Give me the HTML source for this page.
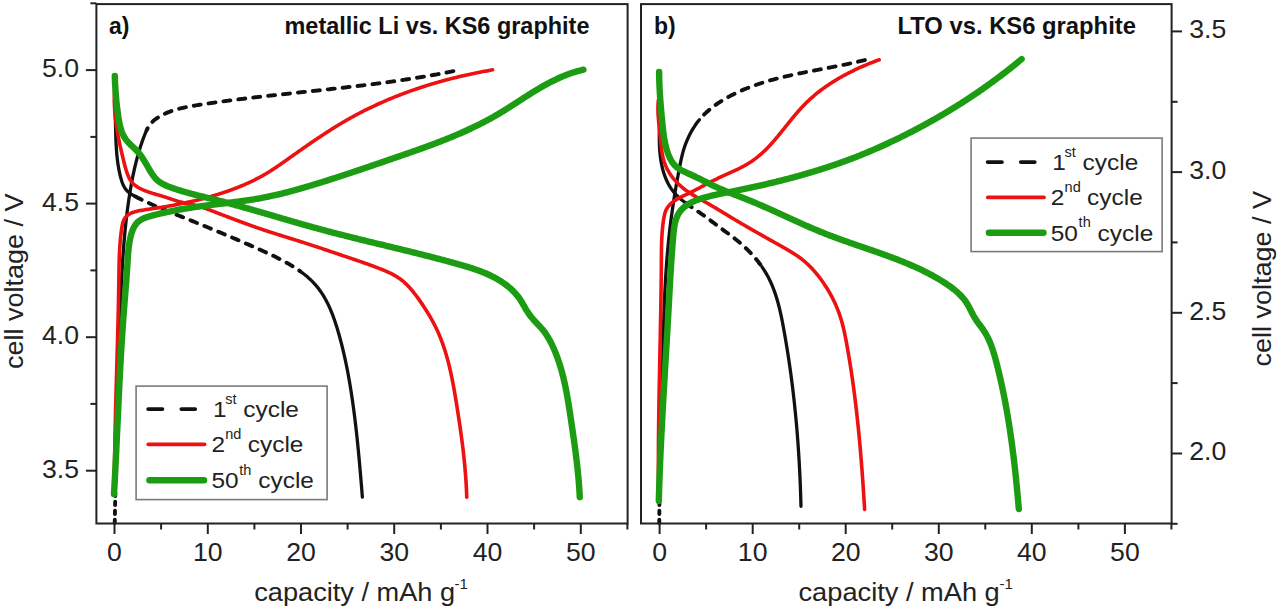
<!DOCTYPE html>
<html><head><meta charset="utf-8"><style>
html,body{margin:0;padding:0;background:#fff;width:1280px;height:607px;overflow:hidden;}
svg{display:block;font-family:"Liberation Sans",sans-serif;}
#w{width:1280px;height:607px;}
</style></head><body>
<div id="w"><svg width="1280" height="607" viewBox="0 0 1280 607">
<rect width="1280" height="607" fill="#fff"/>
<g>
<path d="M114.74,522.97 L114.76,521.77 L114.79,520.57 L114.81,519.37 L114.84,518.17 L114.86,516.97 L114.89,515.77 L114.91,514.57 L114.93,513.37 L114.96,512.17 L114.98,510.97 L115.00,509.77 L115.03,508.57 L115.05,507.37 L115.08,506.17 L115.10,504.97 L115.12,503.76 L115.15,502.56 L115.17,501.36 L115.20,500.16 L115.22,498.96 L115.24,497.76 L115.27,496.56 L115.29,495.36 L115.31,494.16 L115.34,492.95 L115.36,491.75 L115.39,490.55" fill="none" stroke="#111" stroke-width="3.9" stroke-linecap="round" stroke-linejoin="round" stroke-dasharray="3.2 5.8"/>
<path d="M115.39,490.55 L115.41,489.35 L115.43,488.15 L115.46,486.95 L115.48,485.75 L115.50,484.54 L115.53,483.34 L115.55,482.14 L115.58,480.94 L115.60,479.74 L115.62,478.53 L115.65,477.33 L115.67,476.13 L115.70,474.93 L115.72,473.73 L115.75,472.52 L115.77,471.32 L115.79,470.12 L115.82,468.92 L115.84,467.72 L115.87,466.51 L115.89,465.31 L115.92,464.11 L115.94,462.91 L115.97,461.70 L115.99,460.50 L116.02,459.30 L116.04,458.10 L116.07,456.89 L116.09,455.69 L116.12,454.49 L116.14,453.28 L116.17,452.08 L116.19,450.88 L116.22,449.68 L116.24,448.47 L116.27,447.27 L116.29,446.07 L116.32,444.87 L116.34,443.66 L116.37,442.46 L116.40,441.26 L116.42,440.05 L116.45,438.85 L116.48,437.65 L116.50,436.44 L116.53,435.24 L116.55,434.04 L116.58,432.84 L116.61,431.63 L116.64,430.43 L116.66,429.23 L116.69,428.02 L116.72,426.82 L116.74,425.62 L116.77,424.41 L116.80,423.21 L116.83,422.01 L116.86,420.80 L116.88,419.60 L116.91,418.40 L116.94,417.19 L116.97,415.99 L117.00,414.79 L117.03,413.58 L117.05,412.38 L117.08,411.18 L117.11,409.97 L117.14,408.77 L117.17,407.57 L117.20,406.37 L117.23,405.16 L117.26,403.96 L117.29,402.76 L117.32,401.55 L117.35,400.35 L117.38,399.15 L117.41,397.94 L117.44,396.74 L117.47,395.54 L117.51,394.33 L117.54,393.13 L117.57,391.93 L117.60,390.72 L117.63,389.52 L117.67,388.32 L117.70,387.11 L117.73,385.91 L117.76,384.71 L117.80,383.50 L117.83,382.30 L117.86,381.10 L117.90,379.89 L117.93,378.69 L117.96,377.49 L118.00,376.29 L118.03,375.08 L118.07,373.88 L118.10,372.68 L118.14,371.47 L118.17,370.27 L118.21,369.07 L118.24,367.86 L118.28,366.66 L118.31,365.46 L118.35,364.26 L118.39,363.05 L118.42,361.85 L118.46,360.65 L118.50,359.44 L118.53,358.24 L118.57,357.04 L118.61,355.84 L118.65,354.63 L118.69,353.43 L118.72,352.23 L118.76,351.03 L118.80,349.82 L118.84,348.62 L118.88,347.42 L118.92,346.22 L118.96,345.01 L119.00,343.81 L119.04,342.61 L119.08,341.41 L119.12,340.20 L119.17,339.00 L119.21,337.80 L119.25,336.60 L119.29,335.40 L119.33,334.19 L119.38,332.99 L119.42,331.79 L119.46,330.59 L119.51,329.39 L119.55,328.18 L119.59,326.98 L119.64,325.78 L119.68,324.58 L119.73,323.38 L119.77,322.18 L119.82,320.97 L119.87,319.77 L119.91,318.57 L119.96,317.37 L120.00,316.17 L120.05,314.97 L120.10,313.77 L120.15,312.56 L120.20,311.36 L120.24,310.16 L120.29,308.96 L120.34,307.76 L120.39,306.56 L120.44,305.36 L120.49,304.16 L120.54,302.96 L120.59,301.76 L120.64,300.56 L120.69,299.36 L120.74,298.16 L120.80,296.95 L120.85,295.75 L120.90,294.55 L120.96,293.35 L121.01,292.15 L121.06,290.95 L121.12,289.75 L121.17,288.55 L121.23,287.35 L121.29,286.15 L121.34,284.95 L121.40,283.75 L121.46,282.56 L121.52,281.36 L121.58,280.16 L121.64,278.96 L121.70,277.76 L121.76,276.56 L121.83,275.36 L121.89,274.16 L121.96,272.96 L122.02,271.76 L122.09,270.56 L122.16,269.37 L122.23,268.17 L122.30,266.97 L122.37,265.77 L122.44,264.57 L122.52,263.37 L122.59,262.18 L122.67,260.98 L122.74,259.78 L122.82,258.58 L122.90,257.38 L122.98,256.19 L123.06,254.99 L123.15,253.79 L123.23,252.60 L123.32,251.40 L123.41,250.20 L123.50,249.00 L123.59,247.81 L123.68,246.61 L123.77,245.41 L123.87,244.22 L123.97,243.02 L124.07,241.83 L124.17,240.63 L124.27,239.43 L124.37,238.24 L124.48,237.04 L124.59,235.85 L124.70,234.65 L124.81,233.46 L124.92,232.26 L125.03,231.07 L125.15,229.87 L125.27,228.68 L125.39,227.48 L125.51,226.29 L125.64,225.09 L125.76,223.90 L125.89,222.70 L126.02,221.51 L126.16,220.32 L126.29,219.12 L126.43,217.93 L126.57,216.73 L126.71,215.54 L126.85,214.35 L127.00,213.16 L127.15,211.96 L127.30,210.77 L127.45,209.58 L127.61,208.38 L127.77,207.19 L127.93,206.00 L128.09,204.81 L128.26,203.62 L128.43,202.43 L128.60,201.23 L128.77,200.04 L128.95,198.85 L129.12,197.66 L129.31,196.47 L129.49,195.28 L129.68,194.09 L129.87,192.90 L130.06,191.71 L130.25,190.52 L130.45,189.33 L130.65,188.14 L130.86,186.95 L131.07,185.76 L131.28,184.57 L131.49,183.39 L131.71,182.20 L131.93,181.02 L132.16,179.83 L132.39,178.65 L132.62,177.46 L132.86,176.28 L133.10,175.10 L133.35,173.92 L133.60,172.74 L133.85,171.56 L134.11,170.38 L134.37,169.20 L134.64,168.03 L134.91,166.85 L135.19,165.68 L135.47,164.51 L135.76,163.34 L136.05,162.17 L136.35,161.00 L136.65,159.83 L136.96,158.67 L137.27,157.50 L137.59,156.34 L137.91,155.18 L138.24,154.02 L138.57,152.87 L138.91,151.71 L139.26,150.56 L139.61,149.41 L139.97,148.26 L140.33,147.11 L140.70,145.96 L141.08,144.82 L141.46,143.68 L141.85,142.54 L142.25,141.40 L142.65,140.27 L143.06,139.13 L143.47,138.00 L143.90,136.88 L144.33,135.75 L144.76,134.63 L145.21,133.51 L145.67,132.40 L146.15,131.31 L146.65,130.23" fill="none" stroke="#111" stroke-width="3.3" stroke-linecap="round" stroke-linejoin="round"/>
<path d="M146.65,130.23 L147.18,129.16 L147.73,128.12 L148.32,127.09 L148.93,126.10 L149.59,125.13 L150.28,124.19 L151.02,123.28 L151.80,122.41 L152.63,121.58 L153.51,120.78 L154.42,120.02 L155.37,119.29 L156.34,118.59 L157.33,117.91 L158.34,117.26 L159.37,116.64 L160.40,116.04 L161.45,115.46 L162.50,114.90 L163.57,114.36 L164.64,113.85 L165.72,113.35 L166.81,112.87 L167.91,112.41 L169.02,111.97 L170.14,111.55 L171.26,111.14 L172.39,110.75 L173.53,110.37 L174.67,110.01 L175.82,109.67 L176.98,109.33 L178.14,109.02 L179.31,108.71 L180.48,108.41 L181.66,108.13 L182.84,107.85 L184.02,107.59 L185.21,107.34 L186.40,107.09 L187.59,106.85 L188.79,106.62 L189.99,106.40 L191.19,106.18 L192.39,105.97 L193.59,105.77 L194.79,105.57 L196.00,105.37 L197.20,105.18 L198.41,104.98 L199.61,104.80 L200.82,104.61 L202.02,104.42 L203.22,104.24 L204.42,104.05 L205.62,103.87 L206.82,103.69 L208.02,103.51 L209.22,103.34 L210.42,103.16 L211.62,102.98 L212.81,102.81 L214.01,102.64 L215.21,102.47 L216.40,102.30 L217.60,102.13 L218.79,101.96 L219.99,101.80 L221.18,101.63 L222.38,101.47 L223.57,101.31 L224.76,101.15 L225.95,100.99 L227.14,100.83 L228.34,100.67 L229.53,100.51 L230.72,100.36 L231.91,100.20 L233.10,100.05 L234.29,99.89 L235.48,99.74 L236.67,99.59 L237.86,99.44 L239.05,99.29 L240.24,99.14 L241.43,98.99 L242.62,98.85 L243.80,98.70 L244.99,98.56 L246.18,98.41 L247.37,98.27 L248.56,98.13 L249.75,97.98 L250.93,97.84 L252.12,97.70 L253.31,97.56 L254.50,97.42 L255.69,97.28 L256.88,97.15 L258.06,97.01 L259.25,96.87 L260.44,96.73 L261.63,96.60 L262.82,96.46 L264.01,96.33 L265.20,96.19 L266.39,96.06 L267.57,95.93 L268.76,95.79 L269.95,95.66 L271.14,95.53 L272.34,95.39 L273.53,95.26 L274.72,95.13 L275.91,95.00 L277.10,94.87 L278.29,94.74 L279.48,94.61 L280.67,94.48 L281.87,94.35 L283.06,94.22 L284.25,94.09 L285.44,93.96 L286.64,93.83 L287.83,93.70 L289.02,93.57 L290.22,93.44 L291.41,93.32 L292.60,93.19 L293.80,93.06 L294.99,92.93 L296.19,92.80 L297.38,92.68 L298.58,92.55 L299.77,92.42 L300.96,92.29 L302.16,92.16 L303.35,92.04 L304.55,91.91 L305.75,91.78 L306.94,91.65 L308.14,91.52 L309.33,91.40 L310.53,91.27 L311.72,91.14 L312.92,91.01 L314.12,90.88 L315.31,90.75 L316.51,90.62 L317.70,90.49 L318.90,90.37 L320.10,90.24 L321.29,90.11 L322.49,89.98 L323.69,89.85 L324.88,89.72 L326.08,89.59 L327.28,89.45 L328.47,89.32 L329.67,89.19 L330.86,89.06 L332.06,88.93 L333.26,88.79 L334.46,88.66 L335.65,88.53 L336.85,88.39 L338.05,88.26 L339.24,88.13 L340.44,87.99 L341.64,87.85 L342.83,87.72 L344.03,87.58 L345.23,87.45 L346.42,87.31 L347.62,87.17 L348.81,87.03 L350.01,86.89 L351.21,86.75 L352.40,86.61 L353.60,86.47 L354.80,86.33 L355.99,86.19 L357.19,86.05 L358.38,85.90 L359.58,85.76 L360.78,85.61 L361.97,85.47 L363.17,85.32 L364.36,85.18 L365.56,85.03 L366.75,84.88 L367.95,84.73 L369.14,84.58 L370.34,84.43 L371.53,84.28 L372.73,84.13 L373.92,83.97 L375.12,83.82 L376.31,83.67 L377.50,83.51 L378.70,83.35 L379.89,83.20 L381.09,83.04 L382.28,82.88 L383.47,82.72 L384.66,82.56 L385.86,82.40 L387.05,82.23 L388.24,82.07 L389.44,81.91 L390.63,81.74 L391.82,81.57 L393.01,81.41 L394.20,81.24 L395.39,81.07 L396.58,80.89 L397.78,80.72 L398.97,80.55 L400.16,80.37 L401.35,80.20 L402.54,80.02 L403.73,79.84 L404.91,79.66 L406.10,79.48 L407.29,79.30 L408.48,79.12 L409.67,78.94 L410.86,78.75 L412.04,78.56 L413.23,78.38 L414.42,78.19 L415.61,78.00 L416.79,77.80 L417.98,77.61 L419.16,77.42 L420.35,77.22 L421.54,77.02 L422.72,76.83 L423.91,76.63 L425.09,76.42 L426.27,76.22 L427.46,76.02 L428.64,75.81 L429.82,75.60 L431.01,75.40 L432.19,75.19 L433.37,74.97 L434.55,74.76 L435.73,74.55 L436.91,74.33 L438.09,74.11 L439.27,73.89 L440.45,73.67 L441.63,73.45 L442.81,73.22 L443.99,73.00 L445.17,72.77 L446.34,72.54 L447.52,72.31 L448.70,72.08 L449.88,71.84 L451.05,71.61 L452.23,71.37 L453.40,71.13" fill="none" stroke="#111" stroke-width="3.9" stroke-linecap="round" stroke-linejoin="round" stroke-dasharray="7 8" stroke-dashoffset="4.75"/>
<path d="M114.39,100.11 L114.49,101.27 L114.58,102.44 L114.67,103.61 L114.75,104.78 L114.82,105.95 L114.89,107.13 L114.95,108.31 L115.01,109.49 L115.07,110.68 L115.12,111.87 L115.17,113.06 L115.21,114.26 L115.25,115.45 L115.29,116.65 L115.33,117.86 L115.36,119.06 L115.39,120.26 L115.42,121.47 L115.45,122.68 L115.48,123.89 L115.51,125.10 L115.54,126.31 L115.57,127.53 L115.60,128.74 L115.63,129.96 L115.66,131.18 L115.69,132.39 L115.72,133.61 L115.76,134.83 L115.79,136.05 L115.83,137.27 L115.88,138.49 L115.92,139.71 L115.97,140.93 L116.02,142.15 L116.08,143.36 L116.14,144.58 L116.21,145.80 L116.28,147.02 L116.35,148.23 L116.43,149.45 L116.52,150.66 L116.62,151.87 L116.71,153.09 L116.82,154.29 L116.93,155.50 L117.06,156.71 L117.18,157.91 L117.32,159.12 L117.47,160.32 L117.62,161.52 L117.78,162.71 L117.95,163.91 L118.13,165.10 L118.32,166.29 L118.52,167.47 L118.74,168.66 L118.96,169.84 L119.19,171.01 L119.43,172.19 L119.69,173.36 L119.96,174.52 L120.24,175.69 L120.53,176.85 L120.83,178.00 L121.15,179.15 L121.49,180.29 L121.85,181.42 L122.24,182.54 L122.65,183.63 L123.10,184.70 L123.59,185.75 L124.12,186.77 L124.69,187.75 L125.31,188.70 L125.98,189.61 L126.70,190.48 L127.49,191.30 L128.34,192.08 L129.24,192.81 L130.20,193.50 L131.19,194.15 L132.22,194.78 L133.28,195.38 L134.35,195.97 L135.44,196.54" fill="none" stroke="#111" stroke-width="3.3" stroke-linecap="round" stroke-linejoin="round"/>
<path d="M135.44,196.54 L136.53,197.10 L137.62,197.66 L138.71,198.21 L139.80,198.76 L140.90,199.30 L141.99,199.83 L143.09,200.36 L144.19,200.89 L145.29,201.41 L146.39,201.92 L147.49,202.43 L148.59,202.94 L149.69,203.44 L150.80,203.94 L151.90,204.43 L153.01,204.92 L154.11,205.41 L155.22,205.89 L156.33,206.37 L157.43,206.84 L158.54,207.32 L159.65,207.79 L160.76,208.26 L161.87,208.72 L162.99,209.19 L164.10,209.65 L165.21,210.11 L166.32,210.56 L167.44,211.02 L168.55,211.47 L169.66,211.92 L170.78,212.38 L171.89,212.83 L173.01,213.28 L174.12,213.72 L175.24,214.17 L176.36,214.62 L177.47,215.07 L178.59,215.52 L179.70,215.96 L180.82,216.41 L181.94,216.86 L183.05,217.31 L184.17,217.76 L185.29,218.21 L186.40,218.66 L187.52,219.11 L188.64,219.56 L189.75,220.01 L190.87,220.46 L191.98,220.91 L193.10,221.36 L194.22,221.82 L195.33,222.27 L196.45,222.72 L197.57,223.18 L198.68,223.63 L199.80,224.08 L200.91,224.54 L202.03,224.99 L203.15,225.45 L204.26,225.91 L205.38,226.36 L206.49,226.82 L207.61,227.28 L208.72,227.74 L209.84,228.20 L210.95,228.66 L212.06,229.12 L213.18,229.58 L214.29,230.04 L215.40,230.50 L216.52,230.96 L217.63,231.42 L218.74,231.89 L219.86,232.35 L220.97,232.82 L222.08,233.28 L223.19,233.75 L224.30,234.21 L225.41,234.68 L226.52,235.15 L227.63,235.62 L228.74,236.08 L229.85,236.55 L230.96,237.02 L232.07,237.50 L233.18,237.97 L234.29,238.44 L235.39,238.91 L236.50,239.39 L237.61,239.86 L238.71,240.34 L239.82,240.81 L240.92,241.29 L242.03,241.76 L243.13,242.24 L244.24,242.72 L245.34,243.20 L246.44,243.68 L247.54,244.16 L248.64,244.64 L249.75,245.13 L250.85,245.61 L251.95,246.10 L253.05,246.58 L254.14,247.07 L255.24,247.55 L256.34,248.04 L257.44,248.53 L258.53,249.02 L259.63,249.51 L260.72,250.00 L261.82,250.49 L262.91,250.99 L264.00,251.48 L265.09,251.98 L266.18,252.48 L267.27,252.98 L268.36,253.48 L269.45,253.99 L270.53,254.50 L271.62,255.01 L272.70,255.53 L273.78,256.05 L274.86,256.58 L275.94,257.11 L277.01,257.64 L278.09,258.18 L279.16,258.73 L280.23,259.28 L281.30,259.84 L282.36,260.40 L283.43,260.97 L284.49,261.54 L285.55,262.13 L286.60,262.72 L287.66,263.31 L288.71,263.92 L289.75,264.53 L290.80,265.15 L291.84,265.78 L292.88,266.42 L293.91,267.06 L294.94,267.72 L295.96,268.38 L296.98,269.05 L297.99,269.74 L299.00,270.43 L299.99,271.13" fill="none" stroke="#111" stroke-width="3.9" stroke-linecap="round" stroke-linejoin="round" stroke-dasharray="7 8"/>
<path d="M299.99,271.13 L300.98,271.84 L301.96,272.56 L302.93,273.29 L303.89,274.03 L304.85,274.78 L305.79,275.54 L306.72,276.32 L307.64,277.10 L308.54,277.90 L309.44,278.70 L310.32,279.52 L311.19,280.35 L312.04,281.19 L312.88,282.04 L313.70,282.90 L314.51,283.78 L315.30,284.67 L316.08,285.57 L316.84,286.48 L317.59,287.40 L318.32,288.33 L319.03,289.28 L319.74,290.24 L320.42,291.20 L321.10,292.18 L321.76,293.16 L322.41,294.16 L323.04,295.17 L323.66,296.18 L324.27,297.20 L324.86,298.23 L325.45,299.27 L326.02,300.32 L326.58,301.38 L327.13,302.44 L327.66,303.51 L328.19,304.59 L328.70,305.67 L329.21,306.77 L329.71,307.86 L330.19,308.97 L330.67,310.07 L331.13,311.19 L331.59,312.31 L332.04,313.43 L332.48,314.56 L332.91,315.70 L333.33,316.83 L333.75,317.98 L334.16,319.12 L334.56,320.27 L334.95,321.42 L335.34,322.58 L335.72,323.73 L336.10,324.89 L336.46,326.05 L336.83,327.22 L337.18,328.38 L337.54,329.55 L337.88,330.72 L338.22,331.88 L338.56,333.05 L338.90,334.22 L339.23,335.39 L339.55,336.56 L339.87,337.73 L340.19,338.90 L340.50,340.07 L340.81,341.24 L341.12,342.40 L341.42,343.57 L341.72,344.74 L342.02,345.91 L342.31,347.08 L342.60,348.25 L342.88,349.43 L343.16,350.60 L343.44,351.77 L343.71,352.94 L343.98,354.11 L344.25,355.28 L344.51,356.45 L344.78,357.63 L345.03,358.80 L345.29,359.97 L345.54,361.15 L345.79,362.32 L346.03,363.49 L346.28,364.67 L346.52,365.84 L346.75,367.02 L346.99,368.19 L347.22,369.37 L347.45,370.54 L347.67,371.72 L347.90,372.90 L348.12,374.07 L348.33,375.25 L348.55,376.43 L348.76,377.61 L348.97,378.79 L349.18,379.97 L349.39,381.15 L349.59,382.33 L349.79,383.51 L349.99,384.69 L350.18,385.88 L350.38,387.06 L350.57,388.24 L350.76,389.43 L350.95,390.61 L351.14,391.80 L351.32,392.98 L351.50,394.17 L351.68,395.36 L351.86,396.54 L352.04,397.73 L352.21,398.92 L352.39,400.11 L352.56,401.30 L352.73,402.49 L352.89,403.68 L353.06,404.88 L353.22,406.07 L353.39,407.26 L353.55,408.46 L353.71,409.65 L353.87,410.84 L354.02,412.04 L354.18,413.23 L354.33,414.43 L354.48,415.63 L354.63,416.82 L354.78,418.02 L354.93,419.22 L355.08,420.41 L355.22,421.61 L355.37,422.81 L355.51,424.01 L355.65,425.21 L355.79,426.41 L355.92,427.61 L356.06,428.81 L356.20,430.01 L356.33,431.21 L356.46,432.41 L356.60,433.61 L356.73,434.81 L356.86,436.01 L356.98,437.21 L357.11,438.41 L357.24,439.62 L357.36,440.82 L357.49,442.02 L357.61,443.22 L357.73,444.42 L357.85,445.62 L357.97,446.83 L358.09,448.03 L358.21,449.23 L358.32,450.43 L358.44,451.63 L358.56,452.84 L358.67,454.04 L358.78,455.24 L358.90,456.44 L359.01,457.64 L359.12,458.85 L359.23,460.05 L359.34,461.25 L359.45,462.45 L359.56,463.65 L359.66,464.85 L359.77,466.05 L359.88,467.26 L359.98,468.46 L360.09,469.66 L360.19,470.86 L360.29,472.06 L360.40,473.26 L360.50,474.45 L360.60,475.65 L360.70,476.85 L360.81,478.05 L360.91,479.25 L361.01,480.45 L361.11,481.64 L361.21,482.84 L361.31,484.04 L361.40,485.23 L361.50,486.43 L361.60,487.62 L361.70,488.82 L361.80,490.01 L361.89,491.21 L361.99,492.40 L362.09,493.59 L362.18,494.79 L362.28,495.98 L362.38,497.17" fill="none" stroke="#111" stroke-width="3.3" stroke-linecap="round" stroke-linejoin="round"/>
<path d="M114.44,492.03 L114.44,490.82 L114.44,489.61 L114.44,488.41 L114.44,487.20 L114.44,485.99 L114.44,484.79 L114.44,483.58 L114.44,482.37 L114.45,481.17 L114.45,479.96 L114.46,478.75 L114.46,477.55 L114.47,476.34 L114.48,475.14 L114.49,473.93 L114.49,472.72 L114.50,471.52 L114.51,470.31 L114.52,469.11 L114.53,467.90 L114.54,466.70 L114.56,465.49 L114.57,464.29 L114.58,463.08 L114.59,461.88 L114.61,460.67 L114.62,459.47 L114.64,458.26 L114.65,457.06 L114.67,455.86 L114.69,454.65 L114.70,453.45 L114.72,452.24 L114.74,451.04 L114.76,449.84 L114.78,448.63 L114.79,447.43 L114.81,446.23 L114.83,445.02 L114.86,443.82 L114.88,442.62 L114.90,441.41 L114.92,440.21 L114.94,439.01 L114.97,437.80 L114.99,436.60 L115.01,435.40 L115.04,434.19 L115.06,432.99 L115.09,431.79 L115.11,430.59 L115.14,429.38 L115.16,428.18 L115.19,426.98 L115.21,425.78 L115.24,424.57 L115.27,423.37 L115.30,422.17 L115.32,420.97 L115.35,419.76 L115.38,418.56 L115.41,417.36 L115.44,416.16 L115.47,414.96 L115.50,413.75 L115.53,412.55 L115.56,411.35 L115.59,410.15 L115.62,408.95 L115.65,407.74 L115.68,406.54 L115.71,405.34 L115.74,404.14 L115.77,402.94 L115.80,401.74 L115.84,400.53 L115.87,399.33 L115.90,398.13 L115.93,396.93 L115.97,395.73 L116.00,394.53 L116.03,393.33 L116.06,392.12 L116.10,390.92 L116.13,389.72 L116.16,388.52 L116.20,387.32 L116.23,386.12 L116.27,384.91 L116.30,383.71 L116.33,382.51 L116.37,381.31 L116.40,380.11 L116.44,378.91 L116.47,377.70 L116.50,376.50 L116.54,375.30 L116.57,374.10 L116.61,372.90 L116.64,371.70 L116.68,370.50 L116.71,369.29 L116.75,368.09 L116.78,366.89 L116.82,365.69 L116.85,364.49 L116.88,363.28 L116.92,362.08 L116.95,360.88 L116.99,359.68 L117.02,358.48 L117.06,357.28 L117.09,356.07 L117.13,354.87 L117.16,353.67 L117.19,352.47 L117.23,351.26 L117.26,350.06 L117.30,348.86 L117.33,347.66 L117.36,346.46 L117.40,345.25 L117.43,344.05 L117.46,342.85 L117.50,341.65 L117.53,340.44 L117.56,339.24 L117.59,338.04 L117.63,336.83 L117.66,335.63 L117.69,334.43 L117.72,333.23 L117.75,332.02 L117.79,330.82 L117.82,329.62 L117.85,328.41 L117.88,327.21 L117.91,326.01 L117.94,324.80 L117.97,323.60 L118.00,322.39 L118.03,321.19 L118.06,319.99 L118.09,318.78 L118.12,317.58 L118.15,316.37 L118.17,315.17 L118.20,313.97 L118.23,312.76 L118.26,311.56 L118.28,310.35 L118.31,309.15 L118.34,307.94 L118.36,306.74 L118.39,305.53 L118.41,304.33 L118.44,303.12 L118.46,301.92 L118.49,300.71 L118.51,299.51 L118.53,298.30 L118.56,297.09 L118.58,295.89 L118.60,294.68 L118.62,293.48 L118.65,292.27 L118.67,291.06 L118.69,289.86 L118.71,288.65 L118.73,287.44 L118.75,286.24 L118.76,285.03 L118.78,283.82 L118.80,282.61 L118.82,281.41 L118.83,280.20 L118.85,278.99 L118.87,277.78 L118.88,276.58 L118.90,275.37 L118.91,274.16 L118.93,272.95 L118.95,271.74 L118.97,270.54 L118.99,269.33 L119.01,268.12 L119.03,266.91 L119.05,265.71 L119.08,264.50 L119.11,263.29 L119.14,262.08 L119.17,260.88 L119.20,259.67 L119.24,258.47 L119.28,257.26 L119.33,256.05 L119.37,254.85 L119.43,253.65 L119.48,252.44 L119.54,251.24 L119.60,250.04 L119.67,248.83 L119.75,247.63 L119.82,246.43 L119.91,245.23 L119.99,244.03 L120.09,242.83 L120.19,241.63 L120.29,240.44 L120.40,239.24 L120.52,238.04 L120.65,236.85 L120.78,235.65 L120.92,234.46 L121.06,233.27 L121.21,232.08 L121.37,230.89 L121.54,229.70 L121.72,228.51 L121.90,227.32 L122.10,226.14 L122.31,224.97 L122.56,223.82 L122.85,222.69 L123.18,221.59 L123.57,220.53 L124.02,219.52 L124.55,218.55 L125.15,217.64 L125.85,216.80 L126.63,216.02 L127.49,215.30 L128.42,214.64 L129.42,214.04 L130.48,213.49 L131.58,212.98 L132.73,212.53 L133.91,212.12 L135.12,211.75 L136.34,211.41 L137.58,211.11 L138.83,210.84 L140.08,210.59 L141.33,210.37 L142.59,210.16 L143.84,209.96 L145.07,209.76 L146.30,209.58 L147.52,209.39 L148.74,209.21 L149.94,209.03 L151.14,208.85 L152.33,208.68 L153.52,208.50 L154.70,208.33 L155.88,208.15 L157.06,207.98 L158.23,207.80 L159.41,207.62 L160.58,207.43 L161.76,207.25 L162.93,207.06 L164.11,206.87 L165.29,206.67 L166.46,206.47 L167.64,206.27 L168.82,206.07 L169.99,205.86 L171.17,205.65 L172.35,205.44 L173.52,205.22 L174.70,205.00 L175.88,204.77 L177.05,204.55 L178.23,204.32 L179.40,204.08 L180.58,203.85 L181.76,203.61 L182.93,203.36 L184.11,203.12 L185.28,202.87 L186.46,202.61 L187.63,202.36 L188.80,202.10 L189.98,201.83 L191.15,201.56 L192.32,201.29 L193.49,201.02 L194.67,200.74 L195.84,200.45 L197.01,200.17 L198.18,199.88 L199.34,199.58 L200.51,199.29 L201.68,198.98 L202.85,198.68 L204.01,198.37 L205.18,198.06 L206.34,197.74 L207.50,197.42 L208.67,197.09 L209.83,196.77 L210.99,196.43 L212.15,196.10 L213.31,195.76 L214.46,195.41 L215.62,195.06 L216.77,194.71 L217.93,194.35 L219.08,193.99 L220.23,193.62 L221.38,193.25 L222.53,192.88 L223.68,192.50 L224.82,192.11 L225.97,191.73 L227.11,191.33 L228.25,190.94 L229.39,190.53 L230.53,190.13 L231.67,189.71 L232.80,189.30 L233.93,188.88 L235.06,188.45 L236.19,188.01 L237.31,187.58 L238.43,187.13 L239.55,186.68 L240.67,186.23 L241.78,185.77 L242.89,185.30 L244.00,184.83 L245.11,184.35 L246.21,183.87 L247.31,183.38 L248.41,182.88 L249.50,182.38 L250.59,181.87 L251.67,181.36 L252.76,180.83 L253.84,180.31 L254.91,179.77 L255.98,179.23 L257.05,178.68 L258.12,178.13 L259.18,177.57 L260.23,177.00 L261.28,176.42 L262.33,175.84 L263.37,175.25 L264.41,174.65 L265.45,174.05 L266.48,173.43 L267.50,172.81 L268.52,172.19 L269.54,171.55 L270.56,170.92 L271.57,170.27 L272.57,169.62 L273.58,168.97 L274.58,168.31 L275.58,167.64 L276.57,166.97 L277.57,166.30 L278.56,165.62 L279.55,164.94 L280.54,164.26 L281.52,163.57 L282.51,162.88 L283.49,162.19 L284.48,161.50 L285.46,160.81 L286.44,160.11 L287.42,159.42 L288.40,158.72 L289.38,158.02 L290.37,157.32 L291.35,156.63 L292.33,155.93 L293.31,155.23 L294.30,154.54 L295.28,153.84 L296.26,153.14 L297.25,152.45 L298.23,151.75 L299.22,151.06 L300.21,150.36 L301.19,149.67 L302.18,148.98 L303.17,148.29 L304.16,147.60 L305.15,146.91 L306.14,146.22 L307.13,145.53 L308.12,144.85 L309.11,144.16 L310.11,143.48 L311.10,142.79 L312.10,142.11 L313.10,141.43 L314.09,140.75 L315.09,140.08 L316.09,139.40 L317.09,138.73 L318.09,138.05 L319.09,137.38 L320.10,136.72 L321.10,136.05 L322.11,135.38 L323.12,134.72 L324.12,134.06 L325.13,133.40 L326.14,132.74 L327.16,132.09 L328.17,131.44 L329.19,130.79 L330.20,130.14 L331.22,129.50 L332.24,128.85 L333.26,128.21 L334.28,127.58 L335.30,126.94 L336.33,126.31 L337.36,125.68 L338.38,125.06 L339.41,124.43 L340.45,123.81 L341.48,123.20 L342.51,122.58 L343.55,121.97 L344.59,121.36 L345.63,120.76 L346.67,120.16 L347.71,119.56 L348.76,118.97 L349.81,118.38 L350.86,117.79 L351.91,117.21 L352.96,116.63 L354.01,116.05 L355.07,115.48 L356.13,114.91 L357.19,114.34 L358.25,113.78 L359.32,113.22 L360.38,112.67 L361.45,112.11 L362.52,111.57 L363.59,111.02 L364.66,110.48 L365.74,109.94 L366.82,109.41 L367.89,108.88 L368.97,108.35 L370.06,107.83 L371.14,107.31 L372.22,106.79 L373.31,106.28 L374.40,105.77 L375.49,105.26 L376.58,104.75 L377.67,104.25 L378.77,103.76 L379.86,103.26 L380.96,102.77 L382.06,102.29 L383.16,101.80 L384.26,101.32 L385.36,100.85 L386.47,100.37 L387.58,99.90 L388.68,99.44 L389.79,98.97 L390.90,98.51 L392.02,98.06 L393.13,97.60 L394.24,97.15 L395.36,96.70 L396.48,96.26 L397.60,95.82 L398.72,95.38 L399.84,94.95 L400.96,94.52 L402.09,94.09 L403.21,93.66 L404.34,93.24 L405.47,92.82 L406.59,92.41 L407.73,92.00 L408.86,91.59 L409.99,91.18 L411.12,90.78 L412.26,90.38 L413.39,89.98 L414.53,89.59 L415.67,89.20 L416.81,88.81 L417.95,88.43 L419.09,88.04 L420.24,87.67 L421.38,87.29 L422.53,86.92 L423.67,86.55 L424.82,86.18 L425.97,85.82 L427.12,85.46 L428.27,85.10 L429.42,84.75 L430.57,84.40 L431.72,84.05 L432.88,83.71 L434.03,83.37 L435.19,83.03 L436.34,82.69 L437.50,82.36 L438.66,82.03 L439.82,81.70 L440.98,81.37 L442.14,81.05 L443.30,80.73 L444.46,80.42 L445.63,80.11 L446.79,79.80 L447.95,79.49 L449.12,79.18 L450.29,78.88 L451.45,78.58 L452.62,78.29 L453.79,78.00 L454.96,77.70 L456.13,77.42 L457.30,77.13 L458.47,76.85 L459.64,76.57 L460.81,76.30 L461.98,76.02 L463.16,75.75 L464.33,75.48 L465.51,75.22 L466.68,74.96 L467.86,74.70 L469.03,74.44 L470.21,74.18 L471.39,73.93 L472.56,73.68 L473.74,73.44 L474.92,73.19 L476.10,72.95 L477.28,72.71 L478.46,72.48 L479.64,72.25 L480.82,72.01 L482.00,71.79 L483.18,71.56 L484.36,71.34 L485.54,71.12 L486.72,70.90 L487.91,70.69 L489.09,70.47 L490.27,70.26 L491.46,70.06 L492.64,69.85" fill="none" stroke="#ee1111" stroke-width="3.6" stroke-linecap="round" stroke-linejoin="round"/>
<path d="M114.70,89.91 L114.62,91.16 L114.56,92.39 L114.50,93.63 L114.46,94.86 L114.42,96.09 L114.40,97.32 L114.38,98.54 L114.38,99.76 L114.38,100.97 L114.40,102.19 L114.42,103.40 L114.46,104.61 L114.50,105.81 L114.55,107.02 L114.61,108.22 L114.68,109.42 L114.75,110.62 L114.84,111.81 L114.93,113.01 L115.03,114.20 L115.14,115.39 L115.26,116.58 L115.38,117.76 L115.51,118.95 L115.65,120.13 L115.79,121.32 L115.95,122.50 L116.11,123.68 L116.27,124.86 L116.44,126.04 L116.62,127.21 L116.80,128.39 L116.99,129.57 L117.19,130.74 L117.39,131.92 L117.60,133.09 L117.81,134.27 L118.03,135.44 L118.25,136.62 L118.48,137.79 L118.71,138.97 L118.95,140.14 L119.19,141.32 L119.43,142.49 L119.68,143.67 L119.93,144.85 L120.19,146.02 L120.45,147.20 L120.72,148.38 L120.98,149.56 L121.25,150.74 L121.53,151.93 L121.80,153.11 L122.08,154.29 L122.36,155.48 L122.65,156.67 L122.93,157.86 L123.22,159.05 L123.51,160.24 L123.81,161.44 L124.10,162.63 L124.40,163.83 L124.70,165.02 L125.01,166.22 L125.34,167.40 L125.67,168.58 L126.02,169.76 L126.38,170.92 L126.76,172.07 L127.15,173.21 L127.57,174.34 L128.02,175.45 L128.48,176.54 L128.98,177.62 L129.51,178.66 L130.07,179.68 L130.68,180.66 L131.34,181.59 L132.04,182.48 L132.81,183.32 L133.62,184.11 L134.47,184.86 L135.37,185.57 L136.30,186.24 L137.27,186.87 L138.26,187.47 L139.29,188.04 L140.34,188.59 L141.40,189.11 L142.48,189.61 L143.58,190.09 L144.69,190.54 L145.81,190.99 L146.95,191.41 L148.09,191.82 L149.24,192.22 L150.41,192.61 L151.57,192.98 L152.75,193.35 L153.92,193.71 L155.10,194.06 L156.29,194.41 L157.47,194.76 L158.65,195.10 L159.83,195.45 L161.01,195.79 L162.19,196.14 L163.36,196.49 L164.52,196.85 L165.68,197.22 L166.83,197.59 L167.97,197.97 L169.11,198.36 L170.24,198.75 L171.36,199.14 L172.49,199.52 L173.61,199.90 L174.74,200.28 L175.87,200.65 L177.00,201.01 L178.13,201.35 L179.27,201.68 L180.42,201.99 L181.58,202.29 L182.74,202.57 L183.91,202.84 L185.08,203.09 L186.26,203.34 L187.44,203.59 L188.62,203.83 L189.80,204.08 L190.99,204.33 L192.17,204.58 L193.35,204.84 L194.52,205.11 L195.69,205.40 L196.86,205.70 L198.02,206.02 L199.18,206.35 L200.33,206.70 L201.48,207.06 L202.62,207.44 L203.76,207.82 L204.90,208.22 L206.03,208.63 L207.16,209.04 L208.29,209.46 L209.42,209.88 L210.54,210.31 L211.67,210.74 L212.79,211.17 L213.92,211.61 L215.04,212.04 L216.17,212.47 L217.29,212.90 L218.42,213.34 L219.54,213.77 L220.67,214.20 L221.79,214.63 L222.92,215.07 L224.04,215.50 L225.17,215.93 L226.30,216.36 L227.42,216.79 L228.55,217.22 L229.67,217.65 L230.80,218.08 L231.93,218.50 L233.05,218.93 L234.18,219.35 L235.31,219.78 L236.44,220.20 L237.57,220.63 L238.70,221.05 L239.82,221.47 L240.95,221.89 L242.08,222.30 L243.21,222.72 L244.35,223.14 L245.48,223.55 L246.61,223.96 L247.74,224.37 L248.87,224.78 L250.01,225.19 L251.14,225.59 L252.28,226.00 L253.41,226.40 L254.55,226.80 L255.68,227.20 L256.82,227.59 L257.96,227.99 L259.10,228.38 L260.24,228.77 L261.38,229.15 L262.52,229.54 L263.66,229.92 L264.80,230.30 L265.95,230.68 L267.09,231.05 L268.23,231.43 L269.38,231.80 L270.52,232.17 L271.67,232.54 L272.82,232.91 L273.96,233.27 L275.11,233.64 L276.26,234.00 L277.41,234.36 L278.55,234.72 L279.70,235.08 L280.85,235.44 L282.00,235.80 L283.15,236.16 L284.30,236.52 L285.45,236.88 L286.60,237.24 L287.75,237.59 L288.90,237.95 L290.05,238.31 L291.20,238.67 L292.35,239.03 L293.50,239.39 L294.65,239.74 L295.80,240.11 L296.95,240.47 L298.10,240.83 L299.24,241.19 L300.39,241.56 L301.54,241.92 L302.69,242.29 L303.84,242.65 L304.98,243.02 L306.13,243.39 L307.28,243.76 L308.42,244.14 L309.57,244.51 L310.72,244.88 L311.86,245.26 L313.01,245.63 L314.15,246.01 L315.30,246.38 L316.44,246.76 L317.59,247.14 L318.73,247.52 L319.87,247.90 L321.02,248.28 L322.16,248.66 L323.30,249.04 L324.45,249.42 L325.59,249.81 L326.73,250.19 L327.87,250.57 L329.01,250.96 L330.16,251.34 L331.30,251.72 L332.44,252.11 L333.58,252.49 L334.72,252.88 L335.86,253.26 L337.00,253.65 L338.14,254.04 L339.28,254.42 L340.42,254.81 L341.56,255.19 L342.70,255.58 L343.84,255.96 L344.98,256.35 L346.12,256.74 L347.26,257.12 L348.40,257.51 L349.54,257.89 L350.68,258.28 L351.81,258.66 L352.95,259.04 L354.09,259.43 L355.23,259.82 L356.37,260.20 L357.50,260.59 L358.64,260.98 L359.78,261.37 L360.91,261.76 L362.05,262.15 L363.19,262.55 L364.32,262.95 L365.46,263.34 L366.59,263.75 L367.72,264.15 L368.86,264.56 L369.99,264.97 L371.12,265.38 L372.26,265.80 L373.39,266.22 L374.52,266.64 L375.65,267.07 L376.78,267.51 L377.91,267.94 L379.04,268.39 L380.17,268.83 L381.30,269.28 L382.42,269.74 L383.55,270.20 L384.68,270.67 L385.80,271.15 L386.91,271.63 L388.03,272.13 L389.13,272.64 L390.23,273.15 L391.32,273.69 L392.40,274.23 L393.47,274.79 L394.52,275.37 L395.57,275.97 L396.60,276.58 L397.61,277.22 L398.61,277.88 L399.59,278.55 L400.55,279.26 L401.49,279.98 L402.42,280.72 L403.33,281.48 L404.23,282.26 L405.11,283.06 L405.98,283.88 L406.83,284.71 L407.67,285.56 L408.50,286.42 L409.31,287.30 L410.12,288.19 L410.91,289.10 L411.69,290.01 L412.46,290.94 L413.22,291.88 L413.97,292.82 L414.72,293.78 L415.45,294.74 L416.18,295.71 L416.91,296.68 L417.62,297.66 L418.33,298.65 L419.04,299.64 L419.74,300.63 L420.43,301.63 L421.12,302.63 L421.81,303.63 L422.49,304.63 L423.16,305.64 L423.83,306.65 L424.50,307.66 L425.15,308.68 L425.81,309.70 L426.45,310.72 L427.09,311.75 L427.73,312.77 L428.35,313.81 L428.98,314.84 L429.59,315.88 L430.20,316.92 L430.80,317.97 L431.39,319.02 L431.98,320.07 L432.55,321.12 L433.12,322.18 L433.69,323.24 L434.24,324.31 L434.79,325.38 L435.33,326.45 L435.86,327.53 L436.38,328.61 L436.89,329.69 L437.39,330.78 L437.89,331.87 L438.37,332.96 L438.85,334.06 L439.32,335.16 L439.78,336.26 L440.23,337.37 L440.68,338.48 L441.11,339.60 L441.54,340.71 L441.96,341.83 L442.38,342.96 L442.78,344.08 L443.18,345.21 L443.57,346.35 L443.95,347.48 L444.33,348.62 L444.70,349.76 L445.07,350.90 L445.42,352.04 L445.77,353.19 L446.12,354.34 L446.45,355.49 L446.79,356.65 L447.11,357.81 L447.43,358.96 L447.75,360.12 L448.06,361.29 L448.36,362.45 L448.66,363.62 L448.95,364.79 L449.24,365.96 L449.52,367.13 L449.80,368.30 L450.07,369.48 L450.34,370.65 L450.60,371.83 L450.86,373.01 L451.12,374.19 L451.37,375.37 L451.62,376.56 L451.86,377.74 L452.10,378.93 L452.34,380.11 L452.57,381.30 L452.80,382.49 L453.03,383.68 L453.25,384.87 L453.48,386.06 L453.69,387.25 L453.91,388.44 L454.12,389.63 L454.33,390.82 L454.54,392.01 L454.75,393.21 L454.95,394.40 L455.15,395.59 L455.35,396.79 L455.55,397.98 L455.75,399.18 L455.95,400.37 L456.14,401.56 L456.33,402.75 L456.53,403.95 L456.72,405.14 L456.91,406.33 L457.10,407.52 L457.29,408.72 L457.48,409.91 L457.66,411.10 L457.85,412.29 L458.04,413.48 L458.22,414.67 L458.40,415.86 L458.59,417.05 L458.77,418.24 L458.95,419.43 L459.13,420.62 L459.30,421.80 L459.48,422.99 L459.66,424.18 L459.83,425.37 L460.00,426.56 L460.18,427.75 L460.35,428.94 L460.52,430.12 L460.68,431.31 L460.85,432.50 L461.01,433.69 L461.18,434.88 L461.34,436.07 L461.50,437.26 L461.66,438.45 L461.81,439.63 L461.97,440.82 L462.12,442.01 L462.27,443.20 L462.42,444.39 L462.57,445.58 L462.71,446.77 L462.86,447.96 L463.00,449.15 L463.14,450.35 L463.28,451.54 L463.41,452.73 L463.55,453.92 L463.68,455.11 L463.81,456.31 L463.94,457.50 L464.06,458.70 L464.19,459.89 L464.31,461.08 L464.43,462.28 L464.55,463.48 L464.66,464.67 L464.77,465.87 L464.88,467.07 L464.99,468.27 L465.09,469.46 L465.20,470.66 L465.30,471.86 L465.39,473.07 L465.49,474.27 L465.58,475.47 L465.67,476.67 L465.76,477.88 L465.84,479.08 L465.92,480.29 L466.00,481.49 L466.08,482.70 L466.15,483.91 L466.22,485.12 L466.29,486.33 L466.35,487.54 L466.41,488.75 L466.47,489.96 L466.53,491.17 L466.58,492.39 L466.63,493.60 L466.67,494.82 L466.72,496.04 L466.76,497.25" fill="none" stroke="#ee1111" stroke-width="3.6" stroke-linecap="round" stroke-linejoin="round"/>
<path d="M113.97,493.99 L114.04,492.79 L114.11,491.59 L114.18,490.39 L114.25,489.19 L114.32,487.99 L114.38,486.79 L114.45,485.59 L114.52,484.38 L114.59,483.18 L114.65,481.98 L114.72,480.78 L114.79,479.58 L114.85,478.38 L114.92,477.18 L114.98,475.98 L115.04,474.77 L115.11,473.57 L115.17,472.37 L115.23,471.17 L115.30,469.97 L115.36,468.77 L115.42,467.56 L115.48,466.36 L115.54,465.16 L115.60,463.96 L115.67,462.76 L115.73,461.55 L115.79,460.35 L115.85,459.15 L115.91,457.95 L115.96,456.74 L116.02,455.54 L116.08,454.34 L116.14,453.14 L116.20,451.94 L116.26,450.73 L116.32,449.53 L116.37,448.33 L116.43,447.13 L116.49,445.92 L116.55,444.72 L116.60,443.52 L116.66,442.31 L116.72,441.11 L116.77,439.91 L116.83,438.71 L116.89,437.50 L116.94,436.30 L117.00,435.10 L117.05,433.89 L117.11,432.69 L117.17,431.49 L117.22,430.29 L117.28,429.08 L117.33,427.88 L117.39,426.68 L117.45,425.47 L117.50,424.27 L117.56,423.07 L117.61,421.86 L117.67,420.66 L117.72,419.46 L117.78,418.26 L117.84,417.05 L117.89,415.85 L117.95,414.65 L118.00,413.44 L118.06,412.24 L118.12,411.04 L118.17,409.83 L118.23,408.63 L118.28,407.43 L118.34,406.22 L118.40,405.02 L118.45,403.82 L118.51,402.61 L118.57,401.41 L118.62,400.21 L118.68,399.01 L118.74,397.80 L118.80,396.60 L118.85,395.40 L118.91,394.19 L118.97,392.99 L119.03,391.79 L119.09,390.58 L119.15,389.38 L119.21,388.18 L119.26,386.98 L119.32,385.77 L119.38,384.57 L119.44,383.37 L119.50,382.16 L119.57,380.96 L119.63,379.76 L119.69,378.56 L119.75,377.35 L119.81,376.15 L119.87,374.95 L119.94,373.75 L120.00,372.54 L120.06,371.34 L120.13,370.14 L120.19,368.94 L120.25,367.73 L120.32,366.53 L120.38,365.33 L120.45,364.13 L120.52,362.93 L120.58,361.72 L120.65,360.52 L120.72,359.32 L120.78,358.12 L120.85,356.91 L120.92,355.71 L120.99,354.51 L121.06,353.31 L121.13,352.11 L121.20,350.91 L121.27,349.70 L121.34,348.50 L121.42,347.30 L121.49,346.10 L121.56,344.90 L121.64,343.70 L121.71,342.50 L121.79,341.29 L121.86,340.09 L121.94,338.89 L122.01,337.69 L122.09,336.49 L122.17,335.29 L122.25,334.09 L122.33,332.89 L122.41,331.69 L122.49,330.49 L122.57,329.29 L122.65,328.09 L122.73,326.89 L122.82,325.69 L122.90,324.49 L122.98,323.29 L123.07,322.09 L123.16,320.89 L123.24,319.69 L123.33,318.49 L123.42,317.29 L123.51,316.09 L123.60,314.89 L123.69,313.69 L123.78,312.49 L123.87,311.29 L123.96,310.09 L124.06,308.89 L124.15,307.69 L124.24,306.50 L124.34,305.30 L124.43,304.10 L124.53,302.90 L124.62,301.70 L124.72,300.50 L124.82,299.30 L124.91,298.10 L125.01,296.91 L125.10,295.71 L125.20,294.51 L125.29,293.31 L125.39,292.11 L125.48,290.91 L125.58,289.71 L125.67,288.51 L125.77,287.32 L125.86,286.12 L125.95,284.92 L126.05,283.72 L126.14,282.52 L126.23,281.32 L126.32,280.12 L126.41,278.92 L126.50,277.72 L126.59,276.52 L126.67,275.32 L126.76,274.12 L126.84,272.92 L126.93,271.72 L127.01,270.52 L127.09,269.32 L127.17,268.12 L127.25,266.92 L127.33,265.72 L127.41,264.52 L127.48,263.32 L127.56,262.12 L127.63,260.92 L127.70,259.71 L127.78,258.51 L127.86,257.31 L127.95,256.10 L128.03,254.90 L128.13,253.70 L128.23,252.49 L128.34,251.28 L128.45,250.08 L128.58,248.87 L128.71,247.66 L128.86,246.45 L129.02,245.24 L129.20,244.02 L129.38,242.81 L129.58,241.59 L129.80,240.37 L130.04,239.16 L130.29,237.94 L130.57,236.72 L130.86,235.51 L131.19,234.32 L131.53,233.14 L131.91,231.97 L132.32,230.83 L132.77,229.71 L133.25,228.62 L133.76,227.56 L134.32,226.54 L134.92,225.56 L135.56,224.62 L136.26,223.73 L136.99,222.88 L137.78,222.09 L138.63,221.36 L139.52,220.68 L140.46,220.06 L141.45,219.48 L142.48,218.95 L143.54,218.45 L144.63,218.00 L145.74,217.57 L146.88,217.18 L148.04,216.80 L149.21,216.45 L150.39,216.11 L151.58,215.78 L152.76,215.46 L153.95,215.15 L155.14,214.84 L156.32,214.53 L157.51,214.24 L158.69,213.94 L159.88,213.66 L161.07,213.37 L162.25,213.10 L163.43,212.82 L164.62,212.56 L165.80,212.29 L166.99,212.04 L168.17,211.78 L169.36,211.53 L170.54,211.29 L171.73,211.05 L172.91,210.81 L174.09,210.58 L175.28,210.36 L176.46,210.13 L177.65,209.91 L178.83,209.70 L180.01,209.48 L181.20,209.28 L182.38,209.07 L183.57,208.87 L184.75,208.67 L185.94,208.48 L187.12,208.28 L188.30,208.10 L189.49,207.91 L190.67,207.73 L191.86,207.55 L193.05,207.37 L194.23,207.19 L195.42,207.02 L196.60,206.85 L197.79,206.68 L198.98,206.52 L200.16,206.35 L201.35,206.19 L202.54,206.03 L203.73,205.87 L204.91,205.72 L206.10,205.56 L207.29,205.41 L208.48,205.26 L209.67,205.11 L210.86,204.96 L212.05,204.81 L213.24,204.66 L214.43,204.52 L215.62,204.37 L216.82,204.23 L218.01,204.09 L219.20,203.94 L220.39,203.80 L221.59,203.66 L222.78,203.51 L223.97,203.37 L225.17,203.23 L226.36,203.08 L227.55,202.94 L228.75,202.79 L229.94,202.65 L231.14,202.50 L232.33,202.35 L233.52,202.20 L234.72,202.05 L235.91,201.90 L237.10,201.75 L238.30,201.59 L239.49,201.44 L240.68,201.28 L241.88,201.12 L243.07,200.95 L244.26,200.79 L245.45,200.62 L246.64,200.44 L247.83,200.27 L249.02,200.09 L250.21,199.91 L251.40,199.73 L252.59,199.54 L253.78,199.35 L254.97,199.16 L256.15,198.96 L257.34,198.75 L258.52,198.55 L259.71,198.34 L260.89,198.12 L262.08,197.90 L263.26,197.68 L264.44,197.45 L265.62,197.22 L266.80,196.98 L267.98,196.74 L269.16,196.49 L270.33,196.24 L271.51,195.98 L272.69,195.72 L273.86,195.46 L275.04,195.19 L276.21,194.92 L277.38,194.65 L278.55,194.37 L279.72,194.09 L280.89,193.80 L282.06,193.52 L283.23,193.22 L284.40,192.93 L285.57,192.63 L286.74,192.33 L287.90,192.03 L289.07,191.72 L290.23,191.41 L291.40,191.10 L292.56,190.78 L293.72,190.46 L294.88,190.14 L296.04,189.82 L297.21,189.50 L298.37,189.17 L299.53,188.84 L300.68,188.51 L301.84,188.18 L303.00,187.84 L304.16,187.51 L305.31,187.17 L306.47,186.83 L307.62,186.49 L308.78,186.14 L309.93,185.80 L311.09,185.45 L312.24,185.11 L313.39,184.76 L314.54,184.41 L315.70,184.06 L316.85,183.71 L318.00,183.35 L319.15,183.00 L320.30,182.64 L321.45,182.29 L322.59,181.93 L323.74,181.57 L324.89,181.21 L326.04,180.85 L327.18,180.49 L328.33,180.13 L329.48,179.76 L330.62,179.40 L331.77,179.03 L332.91,178.66 L334.06,178.30 L335.20,177.93 L336.34,177.56 L337.49,177.19 L338.63,176.82 L339.77,176.44 L340.92,176.07 L342.06,175.70 L343.20,175.32 L344.34,174.95 L345.48,174.57 L346.63,174.19 L347.77,173.82 L348.91,173.44 L350.05,173.06 L351.19,172.68 L352.33,172.30 L353.47,171.92 L354.61,171.54 L355.75,171.16 L356.89,170.77 L358.03,170.39 L359.17,170.01 L360.31,169.62 L361.44,169.24 L362.58,168.85 L363.72,168.47 L364.86,168.08 L366.00,167.69 L367.14,167.31 L368.28,166.92 L369.41,166.53 L370.55,166.14 L371.69,165.75 L372.83,165.37 L373.97,164.98 L375.11,164.59 L376.24,164.20 L377.38,163.81 L378.52,163.42 L379.66,163.03 L380.80,162.63 L381.94,162.24 L383.08,161.85 L384.21,161.46 L385.35,161.07 L386.49,160.68 L387.63,160.29 L388.77,159.90 L389.91,159.50 L391.05,159.11 L392.19,158.72 L393.33,158.33 L394.47,157.94 L395.61,157.54 L396.75,157.15 L397.89,156.76 L399.03,156.37 L400.17,155.97 L401.31,155.58 L402.45,155.19 L403.59,154.79 L404.73,154.40 L405.87,154.00 L407.01,153.61 L408.15,153.21 L409.29,152.81 L410.43,152.42 L411.56,152.02 L412.70,151.62 L413.84,151.22 L414.98,150.82 L416.12,150.41 L417.25,150.01 L418.39,149.61 L419.53,149.20 L420.66,148.79 L421.80,148.39 L422.93,147.98 L424.07,147.57 L425.20,147.15 L426.33,146.74 L427.47,146.33 L428.60,145.91 L429.73,145.49 L430.86,145.07 L431.99,144.65 L433.12,144.23 L434.25,143.81 L435.37,143.38 L436.50,142.95 L437.63,142.52 L438.75,142.09 L439.88,141.65 L441.00,141.22 L442.12,140.78 L443.24,140.34 L444.36,139.90 L445.48,139.45 L446.60,139.01 L447.72,138.56 L448.83,138.10 L449.95,137.65 L451.06,137.19 L452.17,136.74 L453.28,136.27 L454.39,135.81 L455.50,135.34 L456.61,134.87 L457.71,134.40 L458.82,133.92 L459.92,133.45 L461.02,132.97 L462.12,132.48 L463.22,131.99 L464.32,131.50 L465.42,131.01 L466.51,130.51 L467.60,130.01 L468.69,129.51 L469.78,129.01 L470.87,128.50 L471.96,127.98 L473.04,127.47 L474.12,126.95 L475.21,126.42 L476.28,125.90 L477.36,125.37 L478.44,124.83 L479.51,124.29 L480.58,123.75 L481.65,123.21 L482.72,122.66 L483.79,122.10 L484.85,121.54 L485.91,120.98 L486.97,120.42 L488.03,119.85 L489.09,119.27 L490.14,118.70 L491.19,118.11 L492.24,117.53 L493.29,116.94 L494.34,116.34 L495.38,115.74 L496.42,115.14 L497.46,114.53 L498.49,113.91 L499.53,113.30 L500.56,112.67 L501.59,112.05 L502.62,111.42 L503.65,110.79 L504.67,110.16 L505.70,109.52 L506.72,108.88 L507.74,108.24 L508.76,107.59 L509.78,106.95 L510.80,106.30 L511.82,105.65 L512.83,105.00 L513.85,104.35 L514.87,103.69 L515.88,103.04 L516.90,102.39 L517.91,101.73 L518.93,101.08 L519.94,100.42 L520.95,99.77 L521.97,99.12 L522.99,98.46 L524.00,97.81 L525.02,97.16 L526.03,96.51 L527.05,95.87 L528.07,95.22 L529.09,94.58 L530.11,93.94 L531.13,93.30 L532.15,92.66 L533.18,92.03 L534.20,91.40 L535.23,90.77 L536.26,90.15 L537.29,89.53 L538.32,88.92 L539.36,88.31 L540.39,87.70 L541.43,87.10 L542.47,86.50 L543.52,85.91 L544.56,85.32 L545.61,84.74 L546.66,84.16 L547.71,83.59 L548.77,83.03 L549.83,82.47 L550.89,81.92 L551.96,81.37 L553.03,80.84 L554.10,80.31 L555.17,79.78 L556.25,79.27 L557.34,78.76 L558.42,78.26 L559.51,77.77 L560.61,77.28 L561.71,76.81 L562.81,76.34 L563.92,75.88 L565.03,75.44 L566.15,75.00 L567.27,74.57 L568.39,74.15 L569.52,73.74 L570.66,73.34 L571.80,72.95 L572.94,72.58 L574.09,72.21 L575.25,71.85 L576.41,71.51 L577.58,71.18 L578.75,70.85 L579.93,70.55 L581.11,70.25 L582.30,69.96 L583.50,69.69" fill="none" stroke="#1c9c12" stroke-width="6.4" stroke-linecap="round" stroke-linejoin="round"/>
<path d="M114.78,75.99 L114.82,77.21 L114.87,78.43 L114.92,79.65 L114.97,80.86 L115.02,82.07 L115.08,83.28 L115.14,84.48 L115.21,85.68 L115.28,86.88 L115.35,88.07 L115.43,89.27 L115.51,90.46 L115.59,91.65 L115.68,92.84 L115.77,94.03 L115.86,95.21 L115.96,96.40 L116.07,97.59 L116.18,98.77 L116.29,99.96 L116.40,101.14 L116.53,102.33 L116.65,103.52 L116.78,104.71 L116.92,105.90 L117.06,107.09 L117.20,108.28 L117.35,109.48 L117.50,110.67 L117.66,111.87 L117.83,113.08 L118.00,114.28 L118.17,115.49 L118.35,116.70 L118.54,117.92 L118.73,119.13 L118.94,120.34 L119.15,121.56 L119.38,122.76 L119.63,123.97 L119.89,125.16 L120.18,126.35 L120.48,127.53 L120.81,128.69 L121.16,129.84 L121.54,130.98 L121.95,132.10 L122.39,133.20 L122.86,134.28 L123.37,135.34 L123.91,136.38 L124.49,137.40 L125.11,138.38 L125.77,139.34 L126.48,140.27 L127.22,141.18 L128.00,142.07 L128.80,142.93 L129.63,143.78 L130.48,144.62 L131.34,145.45 L132.21,146.28 L133.09,147.10 L133.96,147.93 L134.83,148.76 L135.69,149.61 L136.53,150.46 L137.36,151.33 L138.16,152.22 L138.93,153.13 L139.68,154.07 L140.40,155.01 L141.11,155.98 L141.80,156.96 L142.47,157.95 L143.12,158.96 L143.77,159.97 L144.40,161.00 L145.02,162.03 L145.63,163.07 L146.24,164.12 L146.85,165.17 L147.45,166.22 L148.05,167.27 L148.66,168.33 L149.27,169.38 L149.88,170.43 L150.51,171.47 L151.14,172.50 L151.79,173.52 L152.46,174.52 L153.15,175.50 L153.86,176.45 L154.60,177.37 L155.36,178.26 L156.16,179.12 L156.99,179.93 L157.87,180.70 L158.78,181.43 L159.72,182.11 L160.70,182.76 L161.71,183.37 L162.75,183.94 L163.81,184.49 L164.89,185.00 L165.99,185.50 L167.10,185.97 L168.22,186.42 L169.35,186.86 L170.49,187.29 L171.63,187.71 L172.77,188.11 L173.91,188.52 L175.05,188.91 L176.20,189.29 L177.35,189.67 L178.49,190.04 L179.64,190.40 L180.79,190.76 L181.95,191.11 L183.10,191.46 L184.25,191.79 L185.41,192.13 L186.57,192.46 L187.72,192.78 L188.88,193.10 L190.04,193.41 L191.20,193.72 L192.36,194.03 L193.53,194.34 L194.69,194.64 L195.85,194.93 L197.02,195.23 L198.18,195.52 L199.34,195.81 L200.51,196.10 L201.67,196.39 L202.84,196.68 L204.00,196.96 L205.17,197.25 L206.34,197.53 L207.50,197.82 L208.67,198.11 L209.83,198.39 L211.00,198.68 L212.16,198.97 L213.33,199.26 L214.49,199.55 L215.66,199.84 L216.82,200.14 L217.98,200.43 L219.15,200.73 L220.31,201.03 L221.47,201.33 L222.64,201.64 L223.80,201.94 L224.96,202.25 L226.12,202.55 L227.28,202.86 L228.44,203.17 L229.61,203.48 L230.77,203.80 L231.93,204.11 L233.09,204.42 L234.25,204.74 L235.41,205.06 L236.57,205.38 L237.73,205.70 L238.89,206.02 L240.04,206.34 L241.20,206.66 L242.36,206.98 L243.52,207.31 L244.68,207.63 L245.84,207.96 L246.99,208.28 L248.15,208.61 L249.31,208.94 L250.47,209.27 L251.63,209.60 L252.78,209.93 L253.94,210.26 L255.10,210.59 L256.25,210.92 L257.41,211.26 L258.57,211.59 L259.72,211.92 L260.88,212.26 L262.04,212.59 L263.19,212.93 L264.35,213.26 L265.51,213.60 L266.66,213.93 L267.82,214.27 L268.97,214.61 L270.13,214.94 L271.29,215.28 L272.44,215.62 L273.60,215.95 L274.75,216.29 L275.91,216.63 L277.07,216.97 L278.22,217.30 L279.38,217.64 L280.53,217.98 L281.69,218.31 L282.84,218.65 L284.00,218.99 L285.16,219.32 L286.31,219.66 L287.47,219.99 L288.62,220.33 L289.78,220.66 L290.94,221.00 L292.09,221.33 L293.25,221.67 L294.40,222.00 L295.56,222.33 L296.72,222.66 L297.87,223.00 L299.03,223.33 L300.19,223.66 L301.34,223.99 L302.50,224.32 L303.66,224.65 L304.81,224.97 L305.97,225.30 L307.13,225.63 L308.29,225.95 L309.44,226.28 L310.60,226.60 L311.76,226.92 L312.92,227.24 L314.08,227.56 L315.23,227.88 L316.39,228.20 L317.55,228.52 L318.71,228.83 L319.87,229.15 L321.03,229.46 L322.19,229.77 L323.35,230.09 L324.51,230.40 L325.67,230.71 L326.83,231.01 L327.99,231.32 L329.15,231.63 L330.31,231.93 L331.47,232.23 L332.63,232.54 L333.79,232.84 L334.95,233.14 L336.12,233.44 L337.28,233.74 L338.44,234.04 L339.60,234.34 L340.76,234.63 L341.93,234.93 L343.09,235.22 L344.25,235.52 L345.42,235.81 L346.58,236.10 L347.74,236.40 L348.91,236.69 L350.07,236.98 L351.23,237.27 L352.40,237.56 L353.56,237.85 L354.72,238.14 L355.89,238.42 L357.05,238.71 L358.22,239.00 L359.38,239.28 L360.55,239.57 L361.71,239.86 L362.88,240.14 L364.04,240.43 L365.21,240.71 L366.37,241.00 L367.54,241.28 L368.70,241.56 L369.87,241.85 L371.03,242.13 L372.20,242.41 L373.37,242.69 L374.53,242.98 L375.70,243.26 L376.87,243.54 L378.03,243.82 L379.20,244.11 L380.36,244.39 L381.53,244.67 L382.70,244.95 L383.87,245.23 L385.03,245.52 L386.20,245.80 L387.37,246.08 L388.53,246.36 L389.70,246.64 L390.87,246.93 L392.04,247.21 L393.20,247.49 L394.37,247.77 L395.54,248.06 L396.71,248.34 L397.87,248.62 L399.04,248.91 L400.21,249.19 L401.38,249.48 L402.55,249.76 L403.71,250.05 L404.88,250.33 L406.05,250.62 L407.22,250.91 L408.39,251.19 L409.56,251.48 L410.72,251.77 L411.89,252.06 L413.06,252.35 L414.23,252.64 L415.40,252.93 L416.57,253.22 L417.73,253.51 L418.90,253.80 L420.07,254.10 L421.24,254.39 L422.41,254.68 L423.58,254.98 L424.75,255.28 L425.92,255.57 L427.08,255.87 L428.25,256.17 L429.42,256.47 L430.59,256.77 L431.76,257.07 L432.93,257.37 L434.10,257.68 L435.27,257.98 L436.43,258.29 L437.60,258.59 L438.77,258.90 L439.94,259.21 L441.11,259.52 L442.28,259.83 L443.45,260.14 L444.62,260.45 L445.78,260.77 L446.95,261.08 L448.12,261.40 L449.29,261.72 L450.46,262.03 L451.63,262.35 L452.80,262.68 L453.97,263.00 L455.13,263.32 L456.30,263.65 L457.47,263.98 L458.64,264.31 L459.81,264.64 L460.97,264.97 L462.14,265.31 L463.31,265.64 L464.47,265.99 L465.63,266.33 L466.79,266.68 L467.95,267.04 L469.11,267.39 L470.26,267.76 L471.42,268.13 L472.57,268.50 L473.71,268.88 L474.86,269.27 L475.99,269.66 L477.13,270.06 L478.26,270.47 L479.39,270.88 L480.52,271.30 L481.64,271.73 L482.75,272.17 L483.86,272.62 L484.97,273.08 L486.07,273.55 L487.16,274.02 L488.25,274.51 L489.33,275.01 L490.41,275.51 L491.48,276.03 L492.54,276.56 L493.60,277.10 L494.65,277.66 L495.69,278.23 L496.73,278.80 L497.76,279.40 L498.78,280.00 L499.79,280.62 L500.79,281.26 L501.79,281.90 L502.78,282.57 L503.75,283.25 L504.72,283.94 L505.68,284.65 L506.63,285.37 L507.57,286.11 L508.50,286.87 L509.42,287.64 L510.33,288.43 L511.22,289.24 L512.10,290.06 L512.96,290.90 L513.81,291.76 L514.64,292.63 L515.46,293.52 L516.26,294.43 L517.03,295.35 L517.79,296.28 L518.53,297.24 L519.24,298.21 L519.94,299.20 L520.61,300.20 L521.25,301.22 L521.88,302.25 L522.49,303.29 L523.10,304.34 L523.69,305.39 L524.29,306.44 L524.89,307.49 L525.49,308.53 L526.10,309.57 L526.73,310.59 L527.37,311.60 L528.03,312.59 L528.71,313.58 L529.40,314.55 L530.11,315.51 L530.83,316.45 L531.57,317.39 L532.32,318.31 L533.09,319.22 L533.88,320.12 L534.68,321.01 L535.49,321.89 L536.31,322.77 L537.14,323.64 L537.97,324.51 L538.80,325.38 L539.62,326.26 L540.44,327.14 L541.24,328.03 L542.04,328.94 L542.81,329.85 L543.56,330.79 L544.29,331.74 L545.01,332.70 L545.70,333.68 L546.37,334.68 L547.02,335.68 L547.66,336.70 L548.28,337.74 L548.88,338.78 L549.47,339.83 L550.05,340.89 L550.61,341.96 L551.15,343.04 L551.69,344.12 L552.21,345.20 L552.72,346.30 L553.22,347.39 L553.71,348.49 L554.19,349.59 L554.66,350.70 L555.13,351.81 L555.58,352.92 L556.02,354.04 L556.46,355.15 L556.88,356.27 L557.30,357.40 L557.70,358.53 L558.10,359.66 L558.50,360.79 L558.88,361.92 L559.25,363.06 L559.62,364.20 L559.98,365.35 L560.33,366.49 L560.68,367.64 L561.01,368.79 L561.34,369.94 L561.67,371.10 L561.98,372.26 L562.29,373.42 L562.60,374.58 L562.89,375.74 L563.19,376.91 L563.47,378.07 L563.75,379.24 L564.03,380.41 L564.29,381.58 L564.56,382.76 L564.82,383.93 L565.07,385.11 L565.32,386.29 L565.56,387.47 L565.80,388.65 L566.03,389.83 L566.27,391.01 L566.49,392.20 L566.71,393.38 L566.93,394.57 L567.15,395.76 L567.36,396.94 L567.57,398.13 L567.78,399.32 L567.98,400.51 L568.18,401.70 L568.38,402.89 L568.57,404.09 L568.76,405.28 L568.95,406.47 L569.14,407.66 L569.33,408.86 L569.51,410.05 L569.70,411.24 L569.88,412.44 L570.06,413.63 L570.24,414.82 L570.42,416.02 L570.60,417.21 L570.77,418.40 L570.95,419.60 L571.13,420.79 L571.31,421.98 L571.48,423.17 L571.66,424.36 L571.83,425.55 L572.01,426.74 L572.18,427.93 L572.36,429.12 L572.53,430.31 L572.71,431.50 L572.88,432.69 L573.05,433.88 L573.22,435.07 L573.39,436.25 L573.56,437.44 L573.73,438.63 L573.90,439.82 L574.06,441.01 L574.23,442.19 L574.39,443.38 L574.55,444.57 L574.72,445.76 L574.88,446.95 L575.03,448.14 L575.19,449.32 L575.35,450.51 L575.50,451.70 L575.66,452.89 L575.81,454.08 L575.96,455.27 L576.11,456.46 L576.25,457.65 L576.40,458.84 L576.54,460.03 L576.68,461.22 L576.82,462.41 L576.96,463.60 L577.09,464.79 L577.22,465.99 L577.36,467.18 L577.48,468.37 L577.61,469.57 L577.73,470.76 L577.86,471.96 L577.98,473.15 L578.09,474.35 L578.21,475.54 L578.32,476.74 L578.43,477.94 L578.53,479.14 L578.64,480.34 L578.74,481.54 L578.84,482.74 L578.93,483.94 L579.03,485.14 L579.12,486.34 L579.20,487.55 L579.29,488.75 L579.37,489.96 L579.44,491.16 L579.52,492.37 L579.59,493.58 L579.66,494.79 L579.72,496.00 L579.78,497.21" fill="none" stroke="#1c9c12" stroke-width="6.4" stroke-linecap="round" stroke-linejoin="round"/>
<path d="M659.25,523.00 L659.26,521.80 L659.27,520.59 L659.27,519.39 L659.28,518.19 L659.29,516.99 L659.30,515.78 L659.31,514.58 L659.32,513.38 L659.33,512.18 L659.34,510.97 L659.35,509.77 L659.37,508.57 L659.38,507.37 L659.39,506.16 L659.41,504.96 L659.42,503.76 L659.44,502.56 L659.45,501.35 L659.47,500.15 L659.48,498.95 L659.50,497.75 L659.52,496.54" fill="none" stroke="#111" stroke-width="3.9" stroke-linecap="round" stroke-linejoin="round" stroke-dasharray="3.2 5.8"/>
<path d="M659.52,496.54 L659.54,495.34 L659.55,494.14 L659.57,492.94 L659.59,491.74 L659.61,490.53 L659.63,489.33 L659.65,488.13 L659.67,486.93 L659.69,485.72 L659.72,484.52 L659.74,483.32 L659.76,482.12 L659.78,480.91 L659.81,479.71 L659.83,478.51 L659.85,477.31 L659.88,476.11 L659.90,474.90 L659.93,473.70 L659.95,472.50 L659.98,471.30 L660.00,470.10 L660.03,468.89 L660.05,467.69 L660.08,466.49 L660.11,465.29 L660.14,464.08 L660.16,462.88 L660.19,461.68 L660.22,460.48 L660.25,459.28 L660.27,458.07 L660.30,456.87 L660.33,455.67 L660.36,454.47 L660.39,453.26 L660.42,452.06 L660.45,450.86 L660.48,449.66 L660.51,448.46 L660.54,447.25 L660.57,446.05 L660.60,444.85 L660.63,443.65 L660.66,442.45 L660.69,441.24 L660.72,440.04 L660.75,438.84 L660.79,437.64 L660.82,436.43 L660.85,435.23 L660.88,434.03 L660.91,432.83 L660.94,431.63 L660.98,430.42 L661.01,429.22 L661.04,428.02 L661.07,426.82 L661.10,425.62 L661.13,424.41 L661.17,423.21 L661.20,422.01 L661.23,420.81 L661.26,419.60 L661.29,418.40 L661.33,417.20 L661.36,416.00 L661.39,414.80 L661.42,413.59 L661.45,412.39 L661.49,411.19 L661.52,409.99 L661.55,408.78 L661.58,407.58 L661.61,406.38 L661.64,405.18 L661.68,403.97 L661.71,402.77 L661.74,401.57 L661.77,400.37 L661.80,399.17 L661.83,397.96 L661.86,396.76 L661.89,395.56 L661.92,394.36 L661.95,393.15 L661.98,391.95 L662.01,390.75 L662.04,389.55 L662.07,388.34 L662.10,387.14 L662.13,385.94 L662.16,384.74 L662.19,383.53 L662.22,382.33 L662.25,381.13 L662.27,379.93 L662.30,378.72 L662.33,377.52 L662.36,376.32 L662.38,375.12 L662.41,373.91 L662.44,372.71 L662.47,371.51 L662.49,370.30 L662.52,369.10 L662.54,367.90 L662.57,366.70 L662.60,365.49 L662.62,364.29 L662.65,363.09 L662.68,361.89 L662.70,360.68 L662.73,359.48 L662.76,358.28 L662.78,357.08 L662.81,355.87 L662.84,354.67 L662.86,353.47 L662.89,352.27 L662.92,351.06 L662.94,349.86 L662.97,348.66 L663.00,347.46 L663.03,346.25 L663.06,345.05 L663.09,343.85 L663.11,342.65 L663.14,341.44 L663.17,340.24 L663.20,339.04 L663.23,337.84 L663.26,336.63 L663.30,335.43 L663.33,334.23 L663.36,333.03 L663.39,331.82 L663.42,330.62 L663.46,329.42 L663.49,328.22 L663.53,327.02 L663.56,325.81 L663.60,324.61 L663.63,323.41 L663.67,322.21 L663.71,321.01 L663.75,319.80 L663.79,318.60 L663.82,317.40 L663.86,316.20 L663.91,315.00 L663.95,313.80 L663.99,312.59 L664.03,311.39 L664.08,310.19 L664.12,308.99 L664.17,307.79 L664.21,306.59 L664.26,305.39 L664.31,304.19 L664.36,302.98 L664.41,301.78 L664.46,300.58 L664.51,299.38 L664.56,298.18 L664.62,296.98 L664.67,295.78 L664.73,294.58 L664.78,293.38 L664.84,292.18 L664.90,290.98 L664.96,289.78 L665.02,288.58 L665.08,287.38 L665.15,286.18 L665.21,284.98 L665.28,283.78 L665.34,282.58 L665.41,281.38 L665.48,280.18 L665.55,278.98 L665.62,277.78 L665.70,276.58 L665.77,275.38 L665.85,274.18 L665.93,272.98 L666.00,271.78 L666.08,270.58 L666.16,269.38 L666.25,268.19 L666.33,266.99 L666.42,265.79 L666.50,264.59 L666.59,263.39 L666.68,262.19 L666.78,260.99 L666.87,259.80 L666.96,258.60 L667.06,257.40 L667.16,256.20 L667.26,255.01 L667.36,253.81 L667.46,252.61 L667.57,251.41 L667.67,250.22 L667.78,249.02 L667.89,247.82 L668.00,246.63 L668.11,245.43 L668.23,244.23 L668.34,243.04 L668.46,241.84 L668.58,240.64 L668.71,239.45 L668.83,238.25 L668.96,237.05 L669.08,235.86 L669.21,234.66 L669.34,233.47 L669.48,232.27 L669.61,231.08 L669.75,229.88 L669.89,228.69 L670.03,227.49 L670.18,226.30 L670.32,225.10 L670.47,223.91 L670.62,222.72 L670.77,221.52 L670.92,220.33 L671.08,219.13 L671.24,217.94 L671.40,216.75 L671.56,215.55 L671.72,214.36 L671.89,213.17 L672.05,211.98 L672.22,210.78 L672.39,209.59 L672.57,208.40 L672.74,207.21 L672.92,206.02 L673.09,204.83 L673.27,203.64 L673.46,202.45 L673.64,201.26 L673.82,200.07 L674.01,198.88 L674.20,197.69 L674.39,196.50 L674.58,195.32 L674.77,194.13 L674.97,192.94 L675.16,191.76 L675.36,190.57 L675.56,189.38 L675.76,188.20 L675.97,187.01 L676.17,185.83 L676.38,184.64 L676.59,183.46 L676.79,182.28 L677.01,181.10 L677.22,179.91 L677.43,178.73 L677.65,177.55 L677.86,176.37 L678.08,175.19 L678.30,174.01 L678.52,172.83 L678.74,171.65 L678.97,170.48 L679.19,169.30 L679.42,168.12 L679.65,166.95 L679.87,165.77 L680.11,164.60 L680.34,163.42 L680.58,162.25 L680.82,161.08 L681.07,159.91 L681.33,158.74 L681.59,157.57 L681.87,156.41 L682.15,155.25 L682.44,154.09 L682.75,152.93 L683.06,151.78 L683.39,150.63 L683.73,149.48 L684.09,148.33 L684.46,147.19 L684.85,146.06 L685.26,144.92 L685.68,143.79 L686.11,142.67 L686.56,141.55 L687.03,140.43 L687.51,139.32 L688.00,138.22 L688.51,137.12 L689.03,136.03 L689.57,134.94 L690.12,133.86 L690.68,132.79 L691.26,131.72 L691.85,130.67 L692.46,129.62 L693.08,128.58 L693.72,127.55 L694.37,126.54 L695.03,125.53 L695.71,124.54 L696.41,123.55 L697.12,122.58 L697.85,121.63 L698.59,120.68 L699.34,119.76" fill="none" stroke="#111" stroke-width="3.3" stroke-linecap="round" stroke-linejoin="round"/>
<path d="M699.34,119.76 L700.11,118.84 L700.90,117.94 L701.70,117.06 L702.52,116.19 L703.35,115.33 L704.19,114.48 L705.04,113.65 L705.91,112.84 L706.79,112.03 L707.68,111.24 L708.58,110.45 L709.49,109.68 L710.41,108.92 L711.33,108.17 L712.27,107.43 L713.22,106.70 L714.17,105.99 L715.14,105.28 L716.11,104.58 L717.09,103.89 L718.08,103.21 L719.07,102.54 L720.07,101.89 L721.08,101.24 L722.10,100.60 L723.12,99.97 L724.15,99.35 L725.19,98.73 L726.23,98.13 L727.28,97.54 L728.33,96.95 L729.39,96.37 L730.46,95.81 L731.53,95.25 L732.60,94.70 L733.68,94.15 L734.77,93.62 L735.86,93.09 L736.95,92.58 L738.05,92.07 L739.15,91.56 L740.25,91.07 L741.36,90.58 L742.47,90.10 L743.59,89.63 L744.70,89.16 L745.82,88.70 L746.94,88.25 L748.07,87.81 L749.19,87.37 L750.32,86.94 L751.45,86.52 L752.58,86.10 L753.71,85.69 L754.85,85.29 L755.99,84.89 L757.12,84.50 L758.26,84.11 L759.40,83.73 L760.54,83.35 L761.69,82.99 L762.83,82.62 L763.98,82.26 L765.13,81.91 L766.27,81.56 L767.42,81.22 L768.58,80.88 L769.73,80.55 L770.88,80.23 L772.04,79.90 L773.19,79.58 L774.35,79.27 L775.51,78.96 L776.67,78.66 L777.83,78.36 L778.99,78.06 L780.15,77.77 L781.32,77.48 L782.48,77.19 L783.65,76.91 L784.81,76.63 L785.98,76.36 L787.15,76.08 L788.32,75.82 L789.49,75.55 L790.66,75.29 L791.83,75.03 L793.00,74.77 L794.18,74.52 L795.35,74.27 L796.52,74.02 L797.70,73.77 L798.87,73.53 L800.05,73.28 L801.23,73.04 L802.40,72.81 L803.58,72.57 L804.76,72.33 L805.94,72.10 L807.12,71.87 L808.30,71.64 L809.48,71.41 L810.66,71.18 L811.84,70.95 L813.02,70.73 L814.20,70.50 L815.38,70.28 L816.56,70.05 L817.74,69.83 L818.92,69.60 L820.11,69.38 L821.29,69.16 L822.47,68.94 L823.65,68.71 L824.83,68.49 L826.02,68.27 L827.20,68.04 L828.38,67.82 L829.56,67.59 L830.74,67.37 L831.93,67.14 L833.11,66.91 L834.29,66.68 L835.47,66.46 L836.65,66.22 L837.83,65.99 L839.01,65.76 L840.19,65.52 L841.37,65.29 L842.55,65.05 L843.73,64.81 L844.91,64.57 L846.09,64.32 L847.27,64.07 L848.44,63.83 L849.62,63.57 L850.80,63.32 L851.97,63.06 L853.15,62.80 L854.32,62.54 L855.50,62.28 L856.67,62.01 L857.84,61.74 L859.02,61.46 L860.19,61.18 L861.36,60.90 L862.53,60.62 L863.70,60.33 L864.86,60.04" fill="none" stroke="#111" stroke-width="3.9" stroke-linecap="round" stroke-linejoin="round" stroke-dasharray="7 8" stroke-dashoffset="7.94"/>
<path d="M658.95,95.04 L659.05,96.22 L659.15,97.39 L659.23,98.58 L659.31,99.76 L659.37,100.95 L659.43,102.14 L659.48,103.33 L659.52,104.52 L659.55,105.71 L659.58,106.91 L659.60,108.11 L659.61,109.31 L659.62,110.51 L659.62,111.71 L659.62,112.91 L659.61,114.12 L659.60,115.33 L659.59,116.53 L659.57,117.74 L659.55,118.95 L659.53,120.16 L659.51,121.37 L659.49,122.58 L659.46,123.79 L659.44,125.01 L659.42,126.22 L659.39,127.43 L659.37,128.65 L659.35,129.86 L659.33,131.07 L659.32,132.29 L659.31,133.50 L659.30,134.71 L659.30,135.93 L659.30,137.14 L659.31,138.35 L659.32,139.56 L659.33,140.78 L659.36,141.99 L659.39,143.20 L659.43,144.41 L659.48,145.62 L659.53,146.82 L659.59,148.03 L659.67,149.23 L659.75,150.44 L659.84,151.64 L659.95,152.84 L660.06,154.04 L660.19,155.24 L660.33,156.44 L660.48,157.63 L660.64,158.83 L660.82,160.02 L661.01,161.21 L661.22,162.40 L661.44,163.58 L661.67,164.76 L661.93,165.95 L662.20,167.12 L662.48,168.30 L662.78,169.47 L663.10,170.64 L663.44,171.80 L663.79,172.96 L664.17,174.11 L664.56,175.25 L664.97,176.39 L665.40,177.51 L665.85,178.63 L666.32,179.74 L666.81,180.83 L667.33,181.91 L667.86,182.98 L668.41,184.04 L668.99,185.08 L669.58,186.11 L670.20,187.12 L670.85,188.11 L671.51,189.09 L672.20,190.05 L672.91,190.99 L673.65,191.91 L674.41,192.81 L675.19,193.70 L675.99,194.56 L676.81,195.41 L677.65,196.24 L678.51,197.06 L679.39,197.87 L680.28,198.66 L681.19,199.44 L682.11,200.20 L683.04,200.96 L683.99,201.71 L684.95,202.44 L685.91,203.17" fill="none" stroke="#111" stroke-width="3.3" stroke-linecap="round" stroke-linejoin="round"/>
<path d="M685.91,203.17 L686.89,203.89 L687.88,204.60 L688.87,205.31 L689.87,206.01 L690.87,206.70 L691.88,207.39 L692.89,208.08 L693.90,208.77 L694.92,209.45 L695.93,210.13 L696.95,210.82 L697.96,211.50 L698.97,212.19 L699.98,212.87 L700.98,213.56 L701.98,214.26 L702.97,214.96 L703.95,215.66 L704.93,216.36 L705.91,217.07 L706.88,217.78 L707.84,218.50 L708.81,219.21 L709.77,219.93 L710.72,220.65 L711.68,221.37 L712.63,222.09 L713.58,222.81 L714.53,223.53 L715.48,224.25 L716.44,224.96 L717.39,225.68 L718.34,226.39 L719.29,227.10 L720.25,227.81 L721.21,228.51 L722.17,229.22 L723.13,229.92 L724.09,230.62 L725.06,231.31 L726.02,232.01 L726.98,232.71 L727.95,233.42 L728.91,234.12 L729.87,234.83 L730.83,235.54 L731.78,236.26 L732.74,236.99 L733.69,237.72 L734.63,238.46 L735.58,239.20 L736.51,239.96 L737.45,240.72 L738.37,241.49 L739.30,242.27 L740.21,243.06 L741.13,243.85 L742.03,244.65 L742.93,245.46 L743.83,246.28 L744.71,247.10 L745.60,247.93 L746.47,248.77 L747.34,249.62 L748.20,250.47 L749.05,251.34 L749.89,252.20 L750.73,253.08 L751.56,253.96 L752.37,254.85 L753.18,255.75 L753.99,256.66 L754.78,257.57 L755.56,258.49 L756.33,259.42 L757.09,260.35 L757.85,261.29 L758.59,262.24 L759.32,263.20 L760.04,264.16 L760.75,265.13 L761.45,266.10 L762.14,267.09" fill="none" stroke="#111" stroke-width="3.9" stroke-linecap="round" stroke-linejoin="round" stroke-dasharray="7 8"/>
<path d="M762.14,267.09 L762.81,268.08 L763.47,269.07 L764.12,270.08 L764.76,271.09 L765.38,272.10 L766.00,273.13 L766.60,274.16 L767.18,275.19 L767.75,276.24 L768.31,277.29 L768.86,278.34 L769.39,279.41 L769.91,280.48 L770.42,281.55 L770.91,282.63 L771.39,283.72 L771.87,284.81 L772.33,285.90 L772.78,287.01 L773.21,288.11 L773.64,289.23 L774.06,290.34 L774.47,291.46 L774.87,292.59 L775.25,293.72 L775.63,294.85 L776.00,295.99 L776.36,297.13 L776.72,298.28 L777.06,299.43 L777.40,300.58 L777.72,301.74 L778.04,302.90 L778.36,304.06 L778.66,305.23 L778.96,306.40 L779.26,307.57 L779.54,308.74 L779.82,309.92 L780.10,311.10 L780.37,312.28 L780.63,313.46 L780.89,314.65 L781.15,315.83 L781.40,317.02 L781.64,318.21 L781.88,319.40 L782.12,320.59 L782.35,321.78 L782.58,322.98 L782.81,324.17 L783.04,325.36 L783.26,326.56 L783.48,327.75 L783.70,328.95 L783.91,330.14 L784.13,331.34 L784.34,332.53 L784.56,333.73 L784.77,334.92 L784.97,336.12 L785.18,337.31 L785.39,338.51 L785.59,339.70 L785.79,340.90 L786.00,342.09 L786.20,343.28 L786.39,344.48 L786.59,345.67 L786.79,346.86 L786.98,348.06 L787.17,349.25 L787.36,350.44 L787.55,351.64 L787.74,352.83 L787.93,354.02 L788.11,355.22 L788.30,356.41 L788.48,357.60 L788.66,358.80 L788.84,359.99 L789.01,361.18 L789.19,362.38 L789.37,363.57 L789.54,364.76 L789.71,365.95 L789.88,367.15 L790.05,368.34 L790.22,369.53 L790.39,370.72 L790.55,371.92 L790.71,373.11 L790.88,374.30 L791.04,375.49 L791.20,376.69 L791.35,377.88 L791.51,379.07 L791.67,380.26 L791.82,381.46 L791.97,382.65 L792.12,383.84 L792.27,385.04 L792.42,386.23 L792.57,387.42 L792.71,388.61 L792.86,389.81 L793.00,391.00 L793.14,392.19 L793.28,393.38 L793.42,394.58 L793.56,395.77 L793.69,396.96 L793.83,398.16 L793.96,399.35 L794.09,400.54 L794.22,401.74 L794.35,402.93 L794.48,404.12 L794.61,405.32 L794.73,406.51 L794.86,407.71 L794.98,408.90 L795.10,410.09 L795.22,411.29 L795.34,412.48 L795.46,413.68 L795.58,414.87 L795.69,416.07 L795.81,417.26 L795.92,418.46 L796.03,419.65 L796.14,420.85 L796.25,422.04 L796.36,423.24 L796.46,424.43 L796.57,425.63 L796.67,426.82 L796.78,428.02 L796.88,429.22 L796.98,430.41 L797.08,431.61 L797.17,432.80 L797.27,434.00 L797.37,435.20 L797.46,436.40 L797.55,437.59 L797.65,438.79 L797.74,439.99 L797.83,441.19 L797.91,442.38 L798.00,443.58 L798.09,444.78 L798.17,445.98 L798.25,447.18 L798.34,448.38 L798.42,449.58 L798.50,450.78 L798.58,451.98 L798.65,453.18 L798.73,454.38 L798.80,455.58 L798.88,456.78 L798.95,457.98 L799.02,459.18 L799.09,460.38 L799.16,461.58 L799.23,462.79 L799.30,463.99 L799.37,465.19 L799.43,466.39 L799.49,467.60 L799.56,468.80 L799.62,470.00 L799.68,471.21 L799.74,472.41 L799.80,473.62 L799.85,474.82 L799.91,476.03 L799.97,477.23 L800.02,478.44 L800.07,479.64 L800.12,480.85 L800.17,482.06 L800.22,483.26 L800.27,484.47 L800.32,485.68 L800.37,486.89 L800.41,488.09 L800.46,489.30 L800.50,490.51 L800.54,491.72 L800.58,492.93 L800.62,494.14 L800.66,495.35 L800.70,496.56 L800.74,497.77 L800.77,498.98 L800.81,500.20 L800.84,501.41 L800.88,502.62 L800.91,503.83 L800.94,505.05 L800.97,506.26" fill="none" stroke="#111" stroke-width="3.3" stroke-linecap="round" stroke-linejoin="round"/>
<path d="M658.61,500.01 L658.59,498.80 L658.58,497.60 L658.56,496.40 L658.55,495.19 L658.53,493.99 L658.52,492.78 L658.51,491.58 L658.49,490.38 L658.48,489.17 L658.47,487.97 L658.46,486.77 L658.45,485.56 L658.44,484.36 L658.43,483.15 L658.43,481.95 L658.42,480.75 L658.41,479.54 L658.41,478.34 L658.40,477.14 L658.40,475.93 L658.39,474.73 L658.39,473.53 L658.38,472.32 L658.38,471.12 L658.38,469.92 L658.38,468.71 L658.38,467.51 L658.38,466.31 L658.38,465.10 L658.38,463.90 L658.38,462.70 L658.38,461.50 L658.38,460.29 L658.38,459.09 L658.39,457.89 L658.39,456.68 L658.40,455.48 L658.40,454.28 L658.41,453.07 L658.41,451.87 L658.42,450.67 L658.42,449.47 L658.43,448.26 L658.44,447.06 L658.45,445.86 L658.45,444.66 L658.46,443.45 L658.47,442.25 L658.48,441.05 L658.49,439.84 L658.50,438.64 L658.51,437.44 L658.52,436.24 L658.53,435.03 L658.55,433.83 L658.56,432.63 L658.57,431.43 L658.58,430.22 L658.60,429.02 L658.61,427.82 L658.62,426.62 L658.64,425.41 L658.65,424.21 L658.67,423.01 L658.68,421.81 L658.70,420.61 L658.71,419.40 L658.73,418.20 L658.75,417.00 L658.76,415.80 L658.78,414.59 L658.80,413.39 L658.82,412.19 L658.83,410.99 L658.85,409.79 L658.87,408.58 L658.89,407.38 L658.91,406.18 L658.93,404.98 L658.95,403.77 L658.97,402.57 L658.99,401.37 L659.01,400.17 L659.03,398.97 L659.05,397.76 L659.07,396.56 L659.09,395.36 L659.11,394.16 L659.13,392.95 L659.16,391.75 L659.18,390.55 L659.20,389.35 L659.22,388.15 L659.24,386.94 L659.27,385.74 L659.29,384.54 L659.31,383.34 L659.33,382.14 L659.36,380.93 L659.38,379.73 L659.40,378.53 L659.43,377.33 L659.45,376.13 L659.47,374.92 L659.50,373.72 L659.52,372.52 L659.55,371.32 L659.57,370.12 L659.59,368.91 L659.62,367.71 L659.64,366.51 L659.67,365.31 L659.69,364.10 L659.72,362.90 L659.74,361.70 L659.76,360.50 L659.79,359.30 L659.81,358.09 L659.84,356.89 L659.86,355.69 L659.89,354.49 L659.91,353.29 L659.94,352.08 L659.96,350.88 L659.99,349.68 L660.01,348.48 L660.03,347.27 L660.06,346.07 L660.08,344.87 L660.11,343.67 L660.13,342.47 L660.16,341.26 L660.18,340.06 L660.21,338.86 L660.23,337.66 L660.25,336.45 L660.28,335.25 L660.30,334.05 L660.33,332.85 L660.35,331.64 L660.37,330.44 L660.40,329.24 L660.42,328.04 L660.44,326.83 L660.47,325.63 L660.49,324.43 L660.51,323.23 L660.53,322.02 L660.56,320.82 L660.58,319.62 L660.60,318.42 L660.62,317.21 L660.65,316.01 L660.67,314.81 L660.69,313.61 L660.71,312.40 L660.73,311.20 L660.75,310.00 L660.77,308.80 L660.79,307.59 L660.82,306.39 L660.84,305.19 L660.86,303.98 L660.88,302.78 L660.89,301.58 L660.91,300.38 L660.93,299.17 L660.95,297.97 L660.97,296.77 L660.99,295.56 L661.01,294.36 L661.02,293.16 L661.04,291.95 L661.06,290.75 L661.08,289.55 L661.09,288.34 L661.11,287.14 L661.12,285.94 L661.14,284.73 L661.16,283.53 L661.17,282.33 L661.18,281.12 L661.20,279.92 L661.21,278.72 L661.23,277.51 L661.24,276.31 L661.25,275.11 L661.27,273.90 L661.28,272.70 L661.29,271.50 L661.30,270.29 L661.31,269.09 L661.32,267.88 L661.33,266.68 L661.34,265.48 L661.35,264.27 L661.36,263.07 L661.37,261.87 L661.38,260.66 L661.38,259.46 L661.39,258.25 L661.40,257.05 L661.41,255.84 L661.42,254.64 L661.43,253.44 L661.44,252.23 L661.45,251.03 L661.47,249.83 L661.48,248.62 L661.50,247.42 L661.53,246.22 L661.56,245.01 L661.59,243.81 L661.62,242.61 L661.66,241.41 L661.71,240.20 L661.76,239.00 L661.82,237.80 L661.88,236.60 L661.95,235.40 L662.02,234.20 L662.10,233.00 L662.19,231.80 L662.29,230.60 L662.40,229.40 L662.51,228.21 L662.63,227.01 L662.77,225.81 L662.91,224.62 L663.06,223.42 L663.22,222.23 L663.40,221.03 L663.58,219.84 L663.77,218.65 L663.98,217.46 L664.20,216.27 L664.45,215.09 L664.73,213.92 L665.05,212.77 L665.41,211.65 L665.84,210.56 L666.33,209.49 L666.89,208.47 L667.52,207.49 L668.21,206.55 L668.95,205.64 L669.74,204.78 L670.57,203.95 L671.44,203.16 L672.35,202.41 L673.29,201.68 L674.25,200.98 L675.25,200.31 L676.27,199.67 L677.31,199.04 L678.38,198.44 L679.46,197.85 L680.55,197.28 L681.66,196.72 L682.77,196.17 L683.89,195.64 L685.02,195.10 L686.14,194.57 L687.26,194.05 L688.38,193.52 L689.49,192.99 L690.59,192.45 L691.68,191.91 L692.77,191.37 L693.84,190.82 L694.91,190.27 L695.97,189.72 L697.03,189.16 L698.08,188.60 L699.13,188.04 L700.18,187.48 L701.22,186.92 L702.26,186.36 L703.29,185.80 L704.33,185.24 L705.37,184.68 L706.41,184.13 L707.45,183.57 L708.49,183.02 L709.54,182.47 L710.58,181.93 L711.64,181.39 L712.70,180.85 L713.76,180.32 L714.83,179.80 L715.91,179.28 L716.99,178.76 L718.08,178.25 L719.17,177.74 L720.27,177.23 L721.37,176.73 L722.47,176.23 L723.58,175.73 L724.69,175.23 L725.80,174.73 L726.91,174.23 L728.02,173.73 L729.13,173.23 L730.24,172.72 L731.35,172.21 L732.46,171.70 L733.56,171.19 L734.67,170.67 L735.77,170.15 L736.87,169.62 L737.96,169.09 L739.05,168.55 L740.13,168.01 L741.21,167.45 L742.28,166.89 L743.35,166.32 L744.41,165.74 L745.46,165.15 L746.51,164.56 L747.54,163.95 L748.57,163.33 L749.58,162.70 L750.59,162.05 L751.59,161.40 L752.57,160.73 L753.55,160.04 L754.51,159.35 L755.46,158.64 L756.41,157.92 L757.34,157.19 L758.26,156.44 L759.17,155.68 L760.08,154.92 L760.97,154.14 L761.86,153.35 L762.73,152.55 L763.60,151.74 L764.46,150.92 L765.32,150.09 L766.16,149.25 L767.00,148.41 L767.84,147.56 L768.66,146.69 L769.48,145.83 L770.30,144.95 L771.10,144.07 L771.91,143.18 L772.71,142.28 L773.50,141.38 L774.29,140.48 L775.07,139.56 L775.85,138.65 L776.63,137.73 L777.41,136.80 L778.18,135.87 L778.94,134.94 L779.71,134.00 L780.47,133.07 L781.24,132.13 L782.00,131.18 L782.75,130.24 L783.51,129.29 L784.27,128.34 L785.03,127.40 L785.78,126.45 L786.54,125.50 L787.30,124.55 L788.05,123.60 L788.81,122.66 L789.57,121.71 L790.33,120.77 L791.10,119.83 L791.86,118.89 L792.63,117.95 L793.40,117.01 L794.17,116.08 L794.95,115.16 L795.73,114.23 L796.51,113.31 L797.30,112.40 L798.09,111.49 L798.89,110.58 L799.69,109.68 L800.50,108.79 L801.31,107.90 L802.13,107.02 L802.95,106.15 L803.79,105.29 L804.62,104.43 L805.47,103.58 L806.32,102.73 L807.18,101.90 L808.04,101.07 L808.91,100.25 L809.79,99.44 L810.67,98.64 L811.56,97.84 L812.46,97.05 L813.36,96.27 L814.27,95.50 L815.19,94.73 L816.11,93.97 L817.04,93.22 L817.97,92.47 L818.91,91.73 L819.85,91.00 L820.80,90.28 L821.76,89.56 L822.72,88.85 L823.68,88.15 L824.65,87.45 L825.63,86.76 L826.61,86.08 L827.60,85.40 L828.59,84.73 L829.58,84.07 L830.58,83.42 L831.59,82.77 L832.60,82.12 L833.61,81.48 L834.63,80.85 L835.65,80.23 L836.68,79.61 L837.71,79.00 L838.75,78.39 L839.79,77.79 L840.83,77.20 L841.88,76.61 L842.93,76.03 L843.98,75.45 L845.04,74.88 L846.10,74.31 L847.17,73.75 L848.24,73.20 L849.31,72.65 L850.38,72.11 L851.46,71.57 L852.54,71.04 L853.63,70.51 L854.71,69.99 L855.80,69.48 L856.89,68.97 L857.99,68.46 L859.09,67.96 L860.19,67.46 L861.29,66.97 L862.39,66.49 L863.50,66.01 L864.61,65.53 L865.72,65.06 L866.83,64.59 L867.95,64.13 L869.06,63.68 L870.18,63.22 L871.30,62.78 L872.42,62.33 L873.55,61.89 L874.67,61.46 L875.80,61.03 L876.93,60.60 L878.05,60.18 L879.18,59.76" fill="none" stroke="#ee1111" stroke-width="3.6" stroke-linecap="round" stroke-linejoin="round"/>
<path d="M658.42,100.03 L658.30,101.26 L658.19,102.48 L658.11,103.70 L658.04,104.91 L658.00,106.11 L657.97,107.32 L657.96,108.52 L657.96,109.71 L657.98,110.90 L658.02,112.10 L658.06,113.28 L658.12,114.47 L658.19,115.66 L658.27,116.84 L658.36,118.02 L658.46,119.21 L658.56,120.39 L658.67,121.57 L658.79,122.76 L658.91,123.94 L659.03,125.13 L659.16,126.32 L659.29,127.51 L659.42,128.70 L659.54,129.90 L659.67,131.10 L659.80,132.30 L659.92,133.51 L660.04,134.72 L660.15,135.93 L660.27,137.15 L660.38,138.37 L660.49,139.60 L660.60,140.82 L660.72,142.05 L660.84,143.27 L660.97,144.49 L661.10,145.72 L661.24,146.94 L661.39,148.16 L661.55,149.37 L661.72,150.58 L661.91,151.79 L662.11,152.99 L662.33,154.18 L662.56,155.37 L662.81,156.55 L663.08,157.72 L663.37,158.88 L663.69,160.04 L664.03,161.18 L664.39,162.31 L664.78,163.43 L665.20,164.54 L665.64,165.64 L666.11,166.72 L666.60,167.79 L667.12,168.85 L667.67,169.90 L668.24,170.93 L668.83,171.95 L669.44,172.96 L670.08,173.95 L670.74,174.93 L671.42,175.90 L672.13,176.86 L672.85,177.80 L673.59,178.72 L674.35,179.64 L675.13,180.53 L675.93,181.42 L676.75,182.29 L677.58,183.15 L678.43,183.99 L679.30,184.82 L680.18,185.63 L681.07,186.43 L681.99,187.21 L682.91,187.98 L683.85,188.73 L684.80,189.47 L685.76,190.19 L686.74,190.90 L687.73,191.59 L688.72,192.27 L689.73,192.94 L690.75,193.60 L691.77,194.24 L692.80,194.88 L693.84,195.51 L694.88,196.12 L695.93,196.74 L696.98,197.34 L698.03,197.95 L699.09,198.54 L700.15,199.14 L701.21,199.73 L702.26,200.32 L703.32,200.91 L704.38,201.51 L705.44,202.10 L706.49,202.70 L707.54,203.30 L708.58,203.90 L709.63,204.50 L710.67,205.11 L711.71,205.72 L712.75,206.33 L713.78,206.94 L714.81,207.56 L715.84,208.17 L716.87,208.79 L717.90,209.41 L718.93,210.03 L719.96,210.65 L720.98,211.27 L722.01,211.89 L723.03,212.51 L724.06,213.13 L725.08,213.75 L726.10,214.37 L727.13,214.99 L728.15,215.61 L729.18,216.23 L730.20,216.85 L731.23,217.47 L732.26,218.08 L733.29,218.70 L734.32,219.31 L735.35,219.93 L736.38,220.54 L737.41,221.15 L738.44,221.76 L739.47,222.37 L740.51,222.98 L741.54,223.59 L742.58,224.19 L743.61,224.80 L744.65,225.41 L745.69,226.01 L746.73,226.61 L747.77,227.22 L748.81,227.82 L749.85,228.42 L750.89,229.02 L751.93,229.62 L752.98,230.22 L754.02,230.82 L755.06,231.42 L756.11,232.02 L757.16,232.62 L758.20,233.21 L759.25,233.81 L760.30,234.41 L761.35,235.00 L762.40,235.60 L763.45,236.19 L764.50,236.78 L765.55,237.38 L766.60,237.97 L767.65,238.56 L768.71,239.16 L769.76,239.75 L770.81,240.34 L771.87,240.93 L772.93,241.52 L773.98,242.11 L775.04,242.70 L776.10,243.29 L777.15,243.88 L778.21,244.47 L779.27,245.07 L780.33,245.66 L781.39,246.25 L782.45,246.84 L783.50,247.44 L784.56,248.04 L785.61,248.64 L786.66,249.24 L787.70,249.85 L788.74,250.47 L789.78,251.09 L790.81,251.71 L791.84,252.35 L792.86,252.99 L793.87,253.64 L794.88,254.29 L795.88,254.96 L796.87,255.63 L797.85,256.31 L798.83,257.01 L799.79,257.71 L800.75,258.43 L801.70,259.16 L802.63,259.90 L803.56,260.65 L804.47,261.42 L805.37,262.19 L806.27,262.98 L807.15,263.79 L808.02,264.60 L808.88,265.43 L809.73,266.26 L810.57,267.11 L811.40,267.97 L812.22,268.83 L813.03,269.71 L813.84,270.60 L814.63,271.50 L815.41,272.40 L816.19,273.32 L816.95,274.24 L817.71,275.18 L818.46,276.12 L819.20,277.07 L819.93,278.03 L820.65,278.99 L821.36,279.96 L822.07,280.94 L822.77,281.93 L823.46,282.92 L824.14,283.92 L824.81,284.92 L825.47,285.94 L826.13,286.95 L826.78,287.98 L827.41,289.01 L828.04,290.04 L828.66,291.09 L829.27,292.13 L829.87,293.19 L830.46,294.25 L831.04,295.31 L831.62,296.38 L832.18,297.45 L832.73,298.53 L833.27,299.62 L833.81,300.70 L834.33,301.80 L834.84,302.90 L835.34,304.00 L835.83,305.10 L836.31,306.21 L836.78,307.33 L837.24,308.45 L837.69,309.57 L838.13,310.69 L838.56,311.82 L838.97,312.95 L839.37,314.09 L839.77,315.23 L840.15,316.37 L840.52,317.51 L840.87,318.66 L841.22,319.81 L841.56,320.96 L841.89,322.12 L842.21,323.27 L842.51,324.43 L842.82,325.60 L843.11,326.76 L843.39,327.92 L843.67,329.09 L843.94,330.26 L844.20,331.43 L844.46,332.60 L844.71,333.78 L844.96,334.95 L845.20,336.13 L845.44,337.31 L845.67,338.49 L845.90,339.67 L846.12,340.85 L846.34,342.03 L846.56,343.21 L846.78,344.39 L846.99,345.58 L847.21,346.76 L847.42,347.94 L847.63,349.13 L847.83,350.31 L848.04,351.50 L848.24,352.68 L848.45,353.87 L848.65,355.05 L848.85,356.24 L849.05,357.43 L849.24,358.61 L849.44,359.80 L849.63,360.99 L849.82,362.17 L850.01,363.36 L850.20,364.55 L850.39,365.74 L850.58,366.93 L850.76,368.12 L850.94,369.30 L851.13,370.49 L851.31,371.68 L851.49,372.87 L851.66,374.06 L851.84,375.26 L852.01,376.45 L852.19,377.64 L852.36,378.83 L852.53,380.02 L852.70,381.21 L852.87,382.40 L853.03,383.60 L853.20,384.79 L853.36,385.98 L853.52,387.18 L853.68,388.37 L853.84,389.56 L854.00,390.76 L854.16,391.95 L854.31,393.14 L854.47,394.34 L854.62,395.53 L854.77,396.73 L854.92,397.92 L855.07,399.12 L855.22,400.31 L855.37,401.51 L855.51,402.70 L855.66,403.90 L855.80,405.10 L855.94,406.29 L856.08,407.49 L856.22,408.69 L856.36,409.88 L856.50,411.08 L856.63,412.28 L856.77,413.48 L856.90,414.67 L857.04,415.87 L857.17,417.07 L857.30,418.27 L857.43,419.46 L857.56,420.66 L857.68,421.86 L857.81,423.06 L857.93,424.26 L858.06,425.46 L858.18,426.66 L858.30,427.85 L858.42,429.05 L858.54,430.25 L858.66,431.45 L858.78,432.65 L858.90,433.85 L859.01,435.05 L859.13,436.25 L859.24,437.45 L859.35,438.65 L859.47,439.85 L859.58,441.05 L859.69,442.25 L859.80,443.45 L859.90,444.65 L860.01,445.85 L860.12,447.05 L860.22,448.25 L860.33,449.45 L860.43,450.65 L860.53,451.85 L860.64,453.05 L860.74,454.25 L860.84,455.45 L860.94,456.66 L861.03,457.86 L861.13,459.06 L861.23,460.26 L861.33,461.46 L861.42,462.66 L861.52,463.86 L861.61,465.06 L861.70,466.26 L861.79,467.46 L861.89,468.66 L861.98,469.86 L862.07,471.07 L862.16,472.27 L862.24,473.47 L862.33,474.67 L862.42,475.87 L862.51,477.07 L862.59,478.27 L862.68,479.47 L862.76,480.67 L862.85,481.87 L862.93,483.07 L863.01,484.27 L863.09,485.48 L863.17,486.68 L863.26,487.88 L863.34,489.08 L863.42,490.28 L863.49,491.48 L863.57,492.68 L863.65,493.88 L863.73,495.08 L863.80,496.28 L863.88,497.48 L863.96,498.68 L864.03,499.88 L864.11,501.08 L864.18,502.28 L864.25,503.48 L864.33,504.68 L864.40,505.88 L864.47,507.07 L864.54,508.27 L864.61,509.47" fill="none" stroke="#ee1111" stroke-width="3.6" stroke-linecap="round" stroke-linejoin="round"/>
<path d="M658.80,500.95 L658.83,499.76 L658.86,498.56 L658.90,497.37 L658.93,496.17 L658.96,494.97 L659.00,493.77 L659.03,492.58 L659.07,491.38 L659.11,490.18 L659.14,488.98 L659.18,487.78 L659.22,486.58 L659.26,485.39 L659.30,484.19 L659.34,482.99 L659.38,481.79 L659.43,480.59 L659.47,479.39 L659.51,478.19 L659.55,476.99 L659.60,475.79 L659.64,474.59 L659.69,473.39 L659.73,472.19 L659.78,470.99 L659.83,469.79 L659.88,468.59 L659.92,467.39 L659.97,466.19 L660.02,464.98 L660.07,463.78 L660.12,462.58 L660.17,461.38 L660.22,460.18 L660.27,458.98 L660.33,457.77 L660.38,456.57 L660.43,455.37 L660.49,454.17 L660.54,452.96 L660.59,451.76 L660.65,450.56 L660.70,449.36 L660.76,448.15 L660.82,446.95 L660.87,445.75 L660.93,444.55 L660.99,443.34 L661.05,442.14 L661.10,440.94 L661.16,439.73 L661.22,438.53 L661.28,437.33 L661.34,436.12 L661.40,434.92 L661.46,433.71 L661.52,432.51 L661.58,431.31 L661.65,430.10 L661.71,428.90 L661.77,427.70 L661.83,426.49 L661.90,425.29 L661.96,424.08 L662.02,422.88 L662.09,421.68 L662.15,420.47 L662.22,419.27 L662.28,418.06 L662.34,416.86 L662.41,415.65 L662.48,414.45 L662.54,413.25 L662.61,412.04 L662.67,410.84 L662.74,409.63 L662.81,408.43 L662.87,407.22 L662.94,406.02 L663.01,404.82 L663.08,403.61 L663.15,402.41 L663.21,401.20 L663.28,400.00 L663.35,398.79 L663.42,397.59 L663.49,396.39 L663.56,395.18 L663.63,393.98 L663.70,392.77 L663.77,391.57 L663.83,390.37 L663.90,389.16 L663.97,387.96 L664.04,386.75 L664.12,385.55 L664.19,384.35 L664.26,383.14 L664.33,381.94 L664.40,380.74 L664.47,379.53 L664.54,378.33 L664.61,377.12 L664.68,375.92 L664.75,374.72 L664.82,373.52 L664.89,372.31 L664.97,371.11 L665.04,369.91 L665.11,368.70 L665.18,367.50 L665.25,366.30 L665.32,365.09 L665.39,363.89 L665.47,362.69 L665.54,361.49 L665.61,360.29 L665.68,359.08 L665.75,357.88 L665.82,356.68 L665.89,355.48 L665.97,354.28 L666.04,353.07 L666.11,351.87 L666.18,350.67 L666.25,349.47 L666.32,348.27 L666.39,347.07 L666.46,345.87 L666.54,344.67 L666.61,343.47 L666.68,342.27 L666.75,341.07 L666.82,339.87 L666.89,338.67 L666.96,337.47 L667.03,336.27 L667.10,335.07 L667.17,333.87 L667.24,332.67 L667.31,331.47 L667.38,330.27 L667.45,329.07 L667.52,327.88 L667.59,326.68 L667.66,325.48 L667.72,324.28 L667.79,323.08 L667.86,321.89 L667.93,320.69 L668.00,319.49 L668.06,318.29 L668.13,317.10 L668.20,315.90 L668.27,314.71 L668.33,313.51 L668.40,312.31 L668.47,311.12 L668.53,309.92 L668.60,308.73 L668.66,307.53 L668.73,306.34 L668.79,305.14 L668.86,303.95 L668.92,302.75 L668.99,301.56 L669.05,300.37 L669.12,299.17 L669.18,297.98 L669.25,296.78 L669.31,295.59 L669.38,294.39 L669.44,293.20 L669.51,292.01 L669.57,290.81 L669.64,289.62 L669.70,288.42 L669.77,287.23 L669.84,286.03 L669.90,284.83 L669.97,283.64 L670.04,282.44 L670.10,281.24 L670.17,280.05 L670.24,278.85 L670.31,277.65 L670.38,276.45 L670.45,275.25 L670.52,274.06 L670.59,272.86 L670.67,271.65 L670.74,270.45 L670.81,269.25 L670.89,268.05 L670.96,266.85 L671.04,265.64 L671.12,264.44 L671.20,263.23 L671.28,262.03 L671.36,260.82 L671.44,259.61 L671.52,258.40 L671.60,257.20 L671.69,255.99 L671.77,254.77 L671.86,253.56 L671.95,252.35 L672.03,251.14 L672.12,249.92 L672.22,248.70 L672.31,247.49 L672.40,246.27 L672.50,245.05 L672.59,243.83 L672.69,242.61 L672.79,241.38 L672.89,240.16 L673.00,238.94 L673.10,237.71 L673.21,236.48 L673.31,235.25 L673.43,234.02 L673.55,232.80 L673.67,231.57 L673.81,230.35 L673.96,229.14 L674.13,227.93 L674.31,226.74 L674.52,225.55 L674.74,224.37 L674.99,223.21 L675.27,222.05 L675.57,220.92 L675.90,219.80 L676.27,218.70 L676.67,217.61 L677.10,216.55 L677.58,215.51 L678.10,214.49 L678.66,213.50 L679.26,212.53 L679.91,211.59 L680.62,210.68 L681.37,209.80 L682.17,208.95 L683.02,208.13 L683.92,207.34 L684.85,206.57 L685.82,205.84 L686.82,205.14 L687.84,204.47 L688.89,203.83 L689.96,203.22 L691.05,202.63 L692.15,202.08 L693.26,201.56 L694.38,201.06 L695.51,200.58 L696.65,200.13 L697.80,199.70 L698.95,199.29 L700.11,198.90 L701.28,198.52 L702.45,198.16 L703.62,197.82 L704.79,197.49 L705.96,197.16 L707.13,196.85 L708.30,196.55 L709.47,196.25 L710.64,195.97 L711.80,195.69 L712.97,195.41 L714.14,195.15 L715.31,194.89 L716.48,194.63 L717.64,194.38 L718.81,194.14 L719.98,193.90 L721.14,193.66 L722.31,193.42 L723.48,193.19 L724.65,192.96 L725.81,192.73 L726.98,192.50 L728.15,192.27 L729.32,192.04 L730.49,191.81 L731.66,191.58 L732.83,191.34 L734.00,191.11 L735.17,190.87 L736.34,190.64 L737.51,190.40 L738.68,190.16 L739.85,189.92 L741.02,189.68 L742.20,189.43 L743.37,189.19 L744.54,188.94 L745.72,188.69 L746.89,188.44 L748.06,188.19 L749.24,187.94 L750.41,187.69 L751.58,187.44 L752.76,187.18 L753.93,186.92 L755.11,186.66 L756.28,186.40 L757.45,186.14 L758.63,185.88 L759.80,185.61 L760.97,185.35 L762.15,185.08 L763.32,184.81 L764.49,184.54 L765.67,184.27 L766.84,183.99 L768.01,183.72 L769.19,183.44 L770.36,183.16 L771.53,182.88 L772.70,182.60 L773.87,182.32 L775.04,182.03 L776.22,181.75 L777.39,181.46 L778.56,181.17 L779.73,180.88 L780.89,180.58 L782.06,180.29 L783.23,179.99 L784.40,179.69 L785.57,179.39 L786.73,179.09 L787.90,178.79 L789.06,178.48 L790.23,178.17 L791.39,177.86 L792.56,177.55 L793.72,177.24 L794.88,176.92 L796.04,176.61 L797.21,176.29 L798.37,175.97 L799.53,175.65 L800.69,175.32 L801.84,175.00 L803.00,174.67 L804.16,174.34 L805.32,174.01 L806.47,173.67 L807.63,173.34 L808.78,173.00 L809.94,172.66 L811.09,172.32 L812.24,171.97 L813.39,171.62 L814.54,171.28 L815.70,170.93 L816.84,170.57 L817.99,170.22 L819.14,169.86 L820.29,169.50 L821.44,169.14 L822.58,168.78 L823.73,168.41 L824.87,168.04 L826.01,167.67 L827.16,167.30 L828.30,166.92 L829.44,166.54 L830.58,166.16 L831.72,165.78 L832.86,165.40 L834.00,165.01 L835.13,164.62 L836.27,164.23 L837.41,163.83 L838.54,163.44 L839.67,163.04 L840.81,162.64 L841.94,162.23 L843.07,161.83 L844.20,161.42 L845.33,161.01 L846.46,160.59 L847.59,160.17 L848.71,159.76 L849.84,159.33 L850.96,158.91 L852.09,158.48 L853.21,158.05 L854.33,157.62 L855.45,157.18 L856.57,156.75 L857.69,156.31 L858.81,155.86 L859.93,155.42 L861.04,154.97 L862.16,154.52 L863.27,154.07 L864.38,153.61 L865.50,153.15 L866.61,152.69 L867.72,152.23 L868.83,151.76 L869.94,151.29 L871.04,150.82 L872.15,150.35 L873.26,149.87 L874.36,149.40 L875.46,148.92 L876.57,148.43 L877.67,147.95 L878.77,147.46 L879.87,146.97 L880.97,146.48 L882.07,145.99 L883.16,145.49 L884.26,144.99 L885.35,144.49 L886.45,143.99 L887.54,143.48 L888.63,142.98 L889.72,142.47 L890.81,141.95 L891.90,141.44 L892.99,140.92 L894.07,140.40 L895.16,139.88 L896.25,139.36 L897.33,138.84 L898.41,138.31 L899.49,137.78 L900.57,137.25 L901.65,136.72 L902.73,136.18 L903.81,135.65 L904.89,135.11 L905.96,134.57 L907.04,134.02 L908.11,133.48 L909.18,132.93 L910.25,132.38 L911.32,131.83 L912.39,131.28 L913.46,130.72 L914.53,130.17 L915.60,129.61 L916.66,129.05 L917.72,128.49 L918.79,127.92 L919.85,127.36 L920.91,126.79 L921.97,126.22 L923.03,125.64 L924.09,125.07 L925.14,124.49 L926.20,123.92 L927.25,123.34 L928.30,122.75 L929.36,122.17 L930.41,121.58 L931.46,121.00 L932.51,120.41 L933.55,119.81 L934.60,119.22 L935.64,118.62 L936.69,118.03 L937.73,117.43 L938.77,116.83 L939.81,116.22 L940.85,115.62 L941.89,115.01 L942.93,114.40 L943.96,113.79 L945.00,113.17 L946.03,112.56 L947.06,111.94 L948.09,111.32 L949.12,110.70 L950.15,110.08 L951.18,109.45 L952.20,108.82 L953.23,108.19 L954.25,107.56 L955.27,106.93 L956.30,106.29 L957.31,105.65 L958.33,105.01 L959.35,104.37 L960.37,103.73 L961.38,103.08 L962.39,102.44 L963.41,101.79 L964.42,101.14 L965.43,100.48 L966.43,99.83 L967.44,99.17 L968.45,98.51 L969.45,97.85 L970.45,97.18 L971.46,96.52 L972.46,95.85 L973.45,95.18 L974.45,94.51 L975.45,93.83 L976.44,93.16 L977.44,92.48 L978.43,91.80 L979.42,91.12 L980.41,90.43 L981.40,89.75 L982.38,89.06 L983.37,88.37 L984.35,87.68 L985.34,86.98 L986.32,86.29 L987.30,85.59 L988.27,84.89 L989.25,84.19 L990.23,83.48 L991.20,82.78 L992.17,82.07 L993.14,81.36 L994.11,80.65 L995.08,79.93 L996.05,79.22 L997.01,78.50 L997.98,77.78 L998.94,77.05 L999.90,76.33 L1000.86,75.60 L1001.82,74.87 L1002.78,74.14 L1003.73,73.41 L1004.68,72.67 L1005.64,71.94 L1006.59,71.20 L1007.54,70.46 L1008.48,69.71 L1009.43,68.97 L1010.37,68.22 L1011.32,67.47 L1012.26,66.72 L1013.20,65.97 L1014.14,65.21 L1015.07,64.45 L1016.01,63.69 L1016.94,62.93 L1017.87,62.17 L1018.80,61.40 L1019.73,60.63 L1020.66,59.86 L1021.59,59.09" fill="none" stroke="#1c9c12" stroke-width="6.4" stroke-linecap="round" stroke-linejoin="round"/>
<path d="M659.13,71.98 L659.14,73.20 L659.15,74.41 L659.16,75.62 L659.19,76.83 L659.21,78.04 L659.24,79.25 L659.27,80.45 L659.31,81.66 L659.35,82.86 L659.40,84.07 L659.45,85.27 L659.50,86.47 L659.56,87.67 L659.62,88.88 L659.68,90.08 L659.75,91.28 L659.82,92.47 L659.89,93.67 L659.96,94.87 L660.04,96.07 L660.12,97.27 L660.21,98.46 L660.29,99.66 L660.38,100.86 L660.47,102.05 L660.57,103.25 L660.66,104.45 L660.76,105.64 L660.86,106.84 L660.96,108.04 L661.06,109.23 L661.17,110.43 L661.27,111.63 L661.38,112.82 L661.49,114.02 L661.60,115.22 L661.71,116.42 L661.82,117.61 L661.94,118.81 L662.05,120.01 L662.16,121.21 L662.28,122.41 L662.40,123.61 L662.51,124.81 L662.63,126.02 L662.76,127.22 L662.88,128.42 L663.02,129.62 L663.15,130.82 L663.30,132.02 L663.45,133.22 L663.61,134.42 L663.78,135.61 L663.96,136.81 L664.14,138.00 L664.34,139.19 L664.55,140.38 L664.78,141.57 L665.02,142.75 L665.27,143.93 L665.53,145.11 L665.82,146.29 L666.12,147.46 L666.43,148.63 L666.77,149.80 L667.12,150.96 L667.50,152.12 L667.89,153.27 L668.31,154.41 L668.76,155.53 L669.23,156.64 L669.73,157.74 L670.26,158.81 L670.82,159.85 L671.42,160.88 L672.05,161.87 L672.72,162.83 L673.42,163.75 L674.17,164.64 L674.96,165.49 L675.79,166.29 L676.67,167.05 L677.58,167.77 L678.54,168.45 L679.52,169.10 L680.54,169.72 L681.59,170.31 L682.65,170.87 L683.74,171.42 L684.84,171.95 L685.96,172.46 L687.09,172.97 L688.22,173.47 L689.35,173.97 L690.48,174.47 L691.61,174.97 L692.72,175.48 L693.84,175.99 L694.94,176.51 L696.04,177.04 L697.13,177.57 L698.22,178.11 L699.30,178.64 L700.38,179.19 L701.45,179.73 L702.52,180.27 L703.59,180.82 L704.66,181.36 L705.73,181.90 L706.79,182.44 L707.86,182.98 L708.92,183.52 L709.99,184.05 L711.06,184.58 L712.13,185.10 L713.20,185.62 L714.28,186.13 L715.36,186.63 L716.45,187.13 L717.54,187.62 L718.63,188.10 L719.72,188.58 L720.82,189.06 L721.92,189.53 L723.02,189.99 L724.13,190.45 L725.24,190.91 L726.34,191.36 L727.46,191.81 L728.57,192.26 L729.69,192.70 L730.80,193.14 L731.92,193.58 L733.04,194.02 L734.16,194.46 L735.28,194.89 L736.40,195.33 L737.52,195.76 L738.64,196.20 L739.76,196.63 L740.89,197.07 L742.01,197.50 L743.13,197.94 L744.25,198.38 L745.37,198.82 L746.49,199.27 L747.61,199.71 L748.72,200.16 L749.84,200.62 L750.95,201.07 L752.06,201.53 L753.17,201.99 L754.29,202.45 L755.39,202.92 L756.50,203.39 L757.61,203.86 L758.72,204.33 L759.82,204.81 L760.93,205.28 L762.03,205.76 L763.13,206.25 L764.23,206.73 L765.33,207.21 L766.43,207.70 L767.53,208.19 L768.63,208.68 L769.73,209.17 L770.83,209.66 L771.93,210.15 L773.02,210.65 L774.12,211.14 L775.22,211.64 L776.31,212.14 L777.41,212.63 L778.50,213.13 L779.60,213.63 L780.69,214.13 L781.79,214.63 L782.88,215.13 L783.98,215.63 L785.07,216.13 L786.16,216.63 L787.26,217.13 L788.35,217.63 L789.45,218.13 L790.54,218.63 L791.64,219.13 L792.73,219.63 L793.83,220.13 L794.92,220.63 L796.02,221.13 L797.11,221.62 L798.21,222.12 L799.31,222.61 L800.40,223.10 L801.50,223.59 L802.60,224.08 L803.70,224.57 L804.80,225.06 L805.90,225.55 L807.00,226.03 L808.10,226.51 L809.21,226.99 L810.31,227.47 L811.41,227.95 L812.52,228.42 L813.62,228.90 L814.73,229.37 L815.84,229.83 L816.95,230.30 L818.06,230.76 L819.17,231.22 L820.28,231.68 L821.40,232.13 L822.51,232.58 L823.63,233.03 L824.75,233.48 L825.86,233.92 L826.99,234.36 L828.11,234.80 L829.23,235.23 L830.35,235.66 L831.48,236.09 L832.60,236.51 L833.73,236.94 L834.86,237.36 L835.99,237.78 L837.12,238.19 L838.25,238.61 L839.38,239.02 L840.51,239.43 L841.65,239.84 L842.78,240.24 L843.92,240.65 L845.05,241.05 L846.19,241.45 L847.33,241.85 L848.46,242.25 L849.60,242.65 L850.74,243.05 L851.88,243.44 L853.02,243.84 L854.16,244.23 L855.29,244.63 L856.43,245.02 L857.57,245.41 L858.71,245.80 L859.85,246.19 L861.00,246.59 L862.14,246.98 L863.28,247.37 L864.42,247.76 L865.56,248.15 L866.70,248.54 L867.84,248.93 L868.98,249.33 L870.12,249.72 L871.26,250.11 L872.39,250.51 L873.53,250.90 L874.67,251.30 L875.81,251.69 L876.95,252.09 L878.08,252.49 L879.22,252.89 L880.35,253.29 L881.49,253.70 L882.62,254.10 L883.76,254.51 L884.89,254.92 L886.02,255.32 L887.15,255.74 L888.28,256.15 L889.41,256.57 L890.54,256.98 L891.67,257.40 L892.79,257.83 L893.92,258.25 L895.04,258.68 L896.16,259.11 L897.28,259.54 L898.40,259.98 L899.52,260.42 L900.64,260.86 L901.76,261.30 L902.87,261.75 L903.98,262.20 L905.10,262.66 L906.21,263.12 L907.31,263.58 L908.42,264.04 L909.53,264.51 L910.63,264.99 L911.73,265.47 L912.83,265.95 L913.93,266.43 L915.03,266.92 L916.12,267.42 L917.21,267.92 L918.30,268.42 L919.39,268.93 L920.48,269.44 L921.56,269.96 L922.64,270.48 L923.72,271.01 L924.79,271.54 L925.87,272.08 L926.94,272.63 L928.01,273.18 L929.07,273.73 L930.14,274.29 L931.20,274.86 L932.25,275.43 L933.31,276.01 L934.36,276.60 L935.41,277.19 L936.46,277.79 L937.50,278.40 L938.54,279.01 L939.57,279.63 L940.61,280.25 L941.64,280.88 L942.66,281.52 L943.69,282.17 L944.71,282.82 L945.72,283.49 L946.73,284.15 L947.74,284.83 L948.73,285.52 L949.73,286.22 L950.71,286.92 L951.68,287.64 L952.64,288.37 L953.60,289.11 L954.54,289.86 L955.46,290.63 L956.38,291.40 L957.28,292.20 L958.16,293.00 L959.03,293.82 L959.88,294.65 L960.72,295.50 L961.53,296.37 L962.33,297.25 L963.10,298.15 L963.86,299.07 L964.59,300.00 L965.30,300.95 L965.98,301.92 L966.64,302.92 L967.28,303.93 L967.89,304.95 L968.48,306.00 L969.05,307.06 L969.61,308.13 L970.16,309.20 L970.71,310.29 L971.26,311.37 L971.81,312.46 L972.36,313.54 L972.93,314.62 L973.51,315.69 L974.10,316.75 L974.72,317.80 L975.37,318.83 L976.03,319.84 L976.72,320.85 L977.42,321.84 L978.14,322.83 L978.86,323.81 L979.59,324.78 L980.31,325.76 L981.04,326.73 L981.75,327.71 L982.46,328.69 L983.15,329.68 L983.82,330.67 L984.47,331.68 L985.09,332.70 L985.70,333.72 L986.29,334.76 L986.86,335.81 L987.41,336.86 L987.94,337.92 L988.46,338.99 L988.96,340.07 L989.44,341.16 L989.91,342.25 L990.36,343.35 L990.80,344.45 L991.23,345.57 L991.65,346.68 L992.05,347.81 L992.44,348.94 L992.82,350.07 L993.19,351.21 L993.55,352.35 L993.90,353.49 L994.25,354.64 L994.58,355.80 L994.91,356.95 L995.23,358.11 L995.55,359.27 L995.86,360.43 L996.17,361.60 L996.47,362.76 L996.77,363.93 L997.07,365.09 L997.36,366.26 L997.66,367.43 L997.95,368.60 L998.23,369.77 L998.52,370.94 L998.80,372.11 L999.08,373.28 L999.36,374.45 L999.63,375.62 L999.91,376.80 L1000.18,377.97 L1000.44,379.14 L1000.71,380.32 L1000.97,381.49 L1001.23,382.67 L1001.49,383.84 L1001.75,385.02 L1002.00,386.20 L1002.25,387.38 L1002.50,388.55 L1002.75,389.73 L1003.00,390.91 L1003.24,392.09 L1003.48,393.27 L1003.72,394.45 L1003.95,395.63 L1004.19,396.81 L1004.42,398.00 L1004.65,399.18 L1004.88,400.36 L1005.10,401.54 L1005.33,402.73 L1005.55,403.91 L1005.77,405.10 L1005.99,406.28 L1006.20,407.47 L1006.42,408.65 L1006.63,409.84 L1006.84,411.02 L1007.04,412.21 L1007.25,413.40 L1007.45,414.58 L1007.66,415.77 L1007.86,416.96 L1008.05,418.15 L1008.25,419.34 L1008.45,420.53 L1008.64,421.72 L1008.83,422.91 L1009.02,424.10 L1009.21,425.29 L1009.39,426.48 L1009.57,427.67 L1009.76,428.86 L1009.94,430.05 L1010.12,431.24 L1010.29,432.43 L1010.47,433.63 L1010.64,434.82 L1010.81,436.01 L1010.98,437.20 L1011.15,438.40 L1011.32,439.59 L1011.49,440.78 L1011.65,441.98 L1011.81,443.17 L1011.97,444.37 L1012.13,445.56 L1012.29,446.76 L1012.45,447.95 L1012.60,449.14 L1012.76,450.34 L1012.91,451.54 L1013.06,452.73 L1013.21,453.93 L1013.36,455.12 L1013.50,456.32 L1013.65,457.51 L1013.79,458.71 L1013.93,459.91 L1014.08,461.10 L1014.22,462.30 L1014.35,463.49 L1014.49,464.69 L1014.63,465.89 L1014.76,467.08 L1014.90,468.28 L1015.03,469.48 L1015.16,470.67 L1015.29,471.87 L1015.42,473.07 L1015.55,474.27 L1015.67,475.46 L1015.80,476.66 L1015.92,477.86 L1016.04,479.05 L1016.17,480.25 L1016.29,481.45 L1016.41,482.64 L1016.53,483.84 L1016.64,485.04 L1016.76,486.23 L1016.88,487.43 L1016.99,488.63 L1017.11,489.82 L1017.22,491.02 L1017.33,492.22 L1017.44,493.41 L1017.55,494.61 L1017.66,495.81 L1017.77,497.00 L1017.88,498.20 L1017.99,499.39 L1018.09,500.59 L1018.20,501.79 L1018.30,502.98 L1018.41,504.18 L1018.51,505.37 L1018.61,506.57 L1018.71,507.76 L1018.81,508.96" fill="none" stroke="#1c9c12" stroke-width="6.4" stroke-linecap="round" stroke-linejoin="round"/>
</g>
<rect x="136.1" y="386.1" width="191" height="113.5" fill="#fff" stroke="#7a7a7a" stroke-width="1.6"/>
<line x1="148.2" y1="409.1" x2="195.2" y2="409.1" stroke="#111" stroke-width="3.9" stroke-linecap="round" stroke-dasharray="14.2 19"/>
<line x1="148.2" y1="444.4" x2="204.6" y2="444.4" stroke="#ee1111" stroke-width="3.6" stroke-linecap="round"/>
<line x1="149.4" y1="480.3" x2="204.0" y2="480.3" stroke="#1c9c12" stroke-width="6.4" stroke-linecap="round"/>
<text transform="translate(213.00,417.10) scale(1.085,1)" font-size="22.5" fill="#222">1</text>
<text transform="translate(225.30,403.60) scale(1.000,1)" font-size="14.5" fill="#222">st</text>
<text transform="translate(243.30,417.10) scale(1.085,1)" font-size="22.5" fill="#222">cycle</text>
<text transform="translate(211.50,452.40) scale(1.085,1)" font-size="22.5" fill="#222">2</text>
<text transform="translate(225.30,438.90) scale(1.000,1)" font-size="14.5" fill="#222">nd</text>
<text transform="translate(247.80,452.40) scale(1.085,1)" font-size="22.5" fill="#222">cycle</text>
<text transform="translate(211.50,488.30) scale(1.085,1)" font-size="22.5" fill="#222">50</text>
<text transform="translate(239.30,474.80) scale(1.000,1)" font-size="14.5" fill="#222">th</text>
<text transform="translate(258.30,488.30) scale(1.085,1)" font-size="22.5" fill="#222">cycle</text>
<rect x="971.1" y="138.1" width="191" height="113.5" fill="#fff" stroke="#7a7a7a" stroke-width="1.6"/>
<line x1="987.7" y1="162.1" x2="1034.7" y2="162.1" stroke="#111" stroke-width="3.9" stroke-linecap="round" stroke-dasharray="14.2 19"/>
<line x1="987.7" y1="197.4" x2="1044.1" y2="197.4" stroke="#ee1111" stroke-width="3.6" stroke-linecap="round"/>
<line x1="988.9" y1="232.8" x2="1043.5" y2="232.8" stroke="#1c9c12" stroke-width="6.4" stroke-linecap="round"/>
<text transform="translate(1052.30,170.10) scale(1.085,1)" font-size="22.5" fill="#222">1</text>
<text transform="translate(1064.60,156.60) scale(1.000,1)" font-size="14.5" fill="#222">st</text>
<text transform="translate(1082.60,170.10) scale(1.085,1)" font-size="22.5" fill="#222">cycle</text>
<text transform="translate(1050.80,205.40) scale(1.085,1)" font-size="22.5" fill="#222">2</text>
<text transform="translate(1064.60,191.90) scale(1.000,1)" font-size="14.5" fill="#222">nd</text>
<text transform="translate(1087.10,205.40) scale(1.085,1)" font-size="22.5" fill="#222">cycle</text>
<text transform="translate(1050.80,240.80) scale(1.085,1)" font-size="22.5" fill="#222">50</text>
<text transform="translate(1078.60,227.30) scale(1.000,1)" font-size="14.5" fill="#222">th</text>
<text transform="translate(1097.60,240.80) scale(1.085,1)" font-size="22.5" fill="#222">cycle</text>
<line x1="114.5" y1="523.5" x2="114.5" y2="534.0" stroke="#222" stroke-width="2"/>
<line x1="659.6" y1="523.5" x2="659.6" y2="534.0" stroke="#222" stroke-width="2"/>
<line x1="161.1" y1="523.5" x2="161.1" y2="529.5" stroke="#222" stroke-width="2"/>
<line x1="706.1" y1="523.5" x2="706.1" y2="529.5" stroke="#222" stroke-width="2"/>
<line x1="207.8" y1="523.5" x2="207.8" y2="534.0" stroke="#222" stroke-width="2"/>
<line x1="752.7" y1="523.5" x2="752.7" y2="534.0" stroke="#222" stroke-width="2"/>
<line x1="254.4" y1="523.5" x2="254.4" y2="529.5" stroke="#222" stroke-width="2"/>
<line x1="799.2" y1="523.5" x2="799.2" y2="529.5" stroke="#222" stroke-width="2"/>
<line x1="301.0" y1="523.5" x2="301.0" y2="534.0" stroke="#222" stroke-width="2"/>
<line x1="845.7" y1="523.5" x2="845.7" y2="534.0" stroke="#222" stroke-width="2"/>
<line x1="347.6" y1="523.5" x2="347.6" y2="529.5" stroke="#222" stroke-width="2"/>
<line x1="892.2" y1="523.5" x2="892.2" y2="529.5" stroke="#222" stroke-width="2"/>
<line x1="394.2" y1="523.5" x2="394.2" y2="534.0" stroke="#222" stroke-width="2"/>
<line x1="938.8" y1="523.5" x2="938.8" y2="534.0" stroke="#222" stroke-width="2"/>
<line x1="440.9" y1="523.5" x2="440.9" y2="529.5" stroke="#222" stroke-width="2"/>
<line x1="985.3" y1="523.5" x2="985.3" y2="529.5" stroke="#222" stroke-width="2"/>
<line x1="487.5" y1="523.5" x2="487.5" y2="534.0" stroke="#222" stroke-width="2"/>
<line x1="1031.8" y1="523.5" x2="1031.8" y2="534.0" stroke="#222" stroke-width="2"/>
<line x1="534.1" y1="523.5" x2="534.1" y2="529.5" stroke="#222" stroke-width="2"/>
<line x1="1078.4" y1="523.5" x2="1078.4" y2="529.5" stroke="#222" stroke-width="2"/>
<line x1="580.8" y1="523.5" x2="580.8" y2="534.0" stroke="#222" stroke-width="2"/>
<line x1="1124.9" y1="523.5" x2="1124.9" y2="534.0" stroke="#222" stroke-width="2"/>
<line x1="627.4" y1="523.5" x2="627.4" y2="529.5" stroke="#222" stroke-width="2"/>
<line x1="1171.4" y1="523.5" x2="1171.4" y2="529.5" stroke="#222" stroke-width="2"/>
<line x1="90.4" y1="3.3" x2="96.4" y2="3.3" stroke="#222" stroke-width="2"/>
<line x1="85.9" y1="70.1" x2="96.4" y2="70.1" stroke="#222" stroke-width="2"/>
<line x1="90.4" y1="136.9" x2="96.4" y2="136.9" stroke="#222" stroke-width="2"/>
<line x1="85.9" y1="203.6" x2="96.4" y2="203.6" stroke="#222" stroke-width="2"/>
<line x1="90.4" y1="270.4" x2="96.4" y2="270.4" stroke="#222" stroke-width="2"/>
<line x1="85.9" y1="337.2" x2="96.4" y2="337.2" stroke="#222" stroke-width="2"/>
<line x1="90.4" y1="403.9" x2="96.4" y2="403.9" stroke="#222" stroke-width="2"/>
<line x1="85.9" y1="470.7" x2="96.4" y2="470.7" stroke="#222" stroke-width="2"/>
<line x1="1171.6" y1="31.4" x2="1182.1" y2="31.4" stroke="#222" stroke-width="2"/>
<line x1="1171.6" y1="101.8" x2="1177.6" y2="101.8" stroke="#222" stroke-width="2"/>
<line x1="1171.6" y1="172.1" x2="1182.1" y2="172.1" stroke="#222" stroke-width="2"/>
<line x1="1171.6" y1="242.4" x2="1177.6" y2="242.4" stroke="#222" stroke-width="2"/>
<line x1="1171.6" y1="312.8" x2="1182.1" y2="312.8" stroke="#222" stroke-width="2"/>
<line x1="1171.6" y1="383.1" x2="1177.6" y2="383.1" stroke="#222" stroke-width="2"/>
<line x1="1171.6" y1="453.5" x2="1182.1" y2="453.5" stroke="#222" stroke-width="2"/>
<line x1="1171.6" y1="523.8" x2="1177.6" y2="523.8" stroke="#222" stroke-width="2"/>
<rect x="96.4" y="4.1" width="531.2" height="519.4" fill="none" stroke="#222" stroke-width="2"/>
<rect x="641" y="4.1" width="530.6" height="519.4" fill="none" stroke="#222" stroke-width="2"/>
<text transform="translate(114.50,560.80) scale(1.040,1)" font-size="25.6" text-anchor="middle" fill="#222">0</text>
<text transform="translate(659.60,560.80) scale(1.040,1)" font-size="25.6" text-anchor="middle" fill="#222">0</text>
<text transform="translate(207.75,560.80) scale(1.040,1)" font-size="25.6" text-anchor="middle" fill="#222">10</text>
<text transform="translate(752.66,560.80) scale(1.040,1)" font-size="25.6" text-anchor="middle" fill="#222">10</text>
<text transform="translate(301.00,560.80) scale(1.040,1)" font-size="25.6" text-anchor="middle" fill="#222">20</text>
<text transform="translate(845.72,560.80) scale(1.040,1)" font-size="25.6" text-anchor="middle" fill="#222">20</text>
<text transform="translate(394.25,560.80) scale(1.040,1)" font-size="25.6" text-anchor="middle" fill="#222">30</text>
<text transform="translate(938.78,560.80) scale(1.040,1)" font-size="25.6" text-anchor="middle" fill="#222">30</text>
<text transform="translate(487.50,560.80) scale(1.040,1)" font-size="25.6" text-anchor="middle" fill="#222">40</text>
<text transform="translate(1031.84,560.80) scale(1.040,1)" font-size="25.6" text-anchor="middle" fill="#222">40</text>
<text transform="translate(580.75,560.80) scale(1.040,1)" font-size="25.6" text-anchor="middle" fill="#222">50</text>
<text transform="translate(1124.90,560.80) scale(1.040,1)" font-size="25.6" text-anchor="middle" fill="#222">50</text>
<text transform="translate(79.00,77.00) scale(1.040,1)" font-size="25.6" text-anchor="end" fill="#222">5.0</text>
<text transform="translate(79.00,210.50) scale(1.040,1)" font-size="25.6" text-anchor="end" fill="#222">4.5</text>
<text transform="translate(79.00,344.00) scale(1.040,1)" font-size="25.6" text-anchor="end" fill="#222">4.0</text>
<text transform="translate(79.00,477.60) scale(1.040,1)" font-size="25.6" text-anchor="end" fill="#222">3.5</text>
<text transform="translate(1189.30,38.30) scale(1.040,1)" font-size="25.6" fill="#222">3.5</text>
<text transform="translate(1189.30,179.30) scale(1.040,1)" font-size="25.6" fill="#222">3.0</text>
<text transform="translate(1189.30,319.60) scale(1.040,1)" font-size="25.6" fill="#222">2.5</text>
<text transform="translate(1189.30,460.30) scale(1.040,1)" font-size="25.6" fill="#222">2.0</text>
<text transform="translate(254.20,600.50) scale(1.088,1)" font-size="25" fill="#222">capacity / mAh g</text>
<text transform="translate(454.60,589.00) scale(1.000,1)" font-size="15" fill="#222">-1</text>
<text transform="translate(798.50,600.50) scale(1.090,1)" font-size="25" fill="#222">capacity / mAh g</text>
<text transform="translate(999.60,589.00) scale(1.000,1)" font-size="15" fill="#222">-1</text>
<text transform="translate(22.5,369) rotate(-90) scale(1.08,1)" font-size="25" fill="#222">cell voltage / V</text>
<text transform="translate(1270.5,366.5) rotate(-90) scale(1.08,1)" font-size="25" fill="#222">cell voltage / V</text>
<text transform="translate(109.00,33.50) scale(1.000,1)" font-size="23" font-weight="bold" fill="#111">a)</text>
<text transform="translate(284.50,33.50) scale(1.020,1)" font-size="23" font-weight="bold" fill="#111">metallic Li vs. KS6 graphite</text>
<text transform="translate(654.00,33.50) scale(1.000,1)" font-size="23" font-weight="bold" fill="#111">b)</text>
<text transform="translate(897.50,33.50) scale(1.035,1)" font-size="23" font-weight="bold" fill="#111">LTO vs. KS6 graphite</text>
</svg></div>
</body></html>
